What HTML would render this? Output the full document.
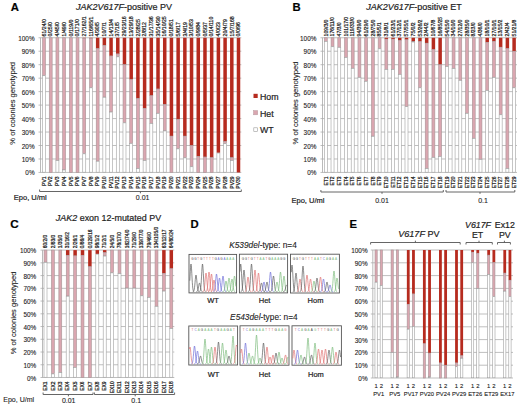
<!DOCTYPE html>
<html><head><meta charset="utf-8"><style>
html,body{margin:0;padding:0;background:#fff;}
svg{display:block;font-family:"Liberation Sans", sans-serif;}
text{stroke:#222;stroke-width:0.1px;}
text.sm{stroke-width:0.22px;}
text.lg,text.tt{stroke-width:0.2px;}
</style></head><body>
<svg width="520" height="406" viewBox="0 0 520 406">
<rect width="520" height="406" fill="#fff"/>
<line x1="38.50" y1="172.45" x2="241.30" y2="172.45" stroke="#a4a4a4" stroke-width="0.7"/>
<text x="34.60" y="175.45" font-size="6.4" text-anchor="end" fill="#222">0%</text>
<line x1="38.50" y1="158.98" x2="241.30" y2="158.98" stroke="#a4a4a4" stroke-width="0.7"/>
<text x="34.60" y="161.98" font-size="6.4" text-anchor="end" fill="#222">10%</text>
<line x1="38.50" y1="145.51" x2="241.30" y2="145.51" stroke="#a4a4a4" stroke-width="0.7"/>
<text x="34.60" y="148.51" font-size="6.4" text-anchor="end" fill="#222">20%</text>
<line x1="38.50" y1="132.04" x2="241.30" y2="132.04" stroke="#a4a4a4" stroke-width="0.7"/>
<text x="34.60" y="135.04" font-size="6.4" text-anchor="end" fill="#222">30%</text>
<line x1="38.50" y1="118.57" x2="241.30" y2="118.57" stroke="#a4a4a4" stroke-width="0.7"/>
<text x="34.60" y="121.57" font-size="6.4" text-anchor="end" fill="#222">40%</text>
<line x1="38.50" y1="105.10" x2="241.30" y2="105.10" stroke="#a4a4a4" stroke-width="0.7"/>
<text x="34.60" y="108.10" font-size="6.4" text-anchor="end" fill="#222">50%</text>
<line x1="38.50" y1="91.63" x2="241.30" y2="91.63" stroke="#a4a4a4" stroke-width="0.7"/>
<text x="34.60" y="94.63" font-size="6.4" text-anchor="end" fill="#222">60%</text>
<line x1="38.50" y1="78.16" x2="241.30" y2="78.16" stroke="#a4a4a4" stroke-width="0.7"/>
<text x="34.60" y="81.16" font-size="6.4" text-anchor="end" fill="#222">70%</text>
<line x1="38.50" y1="64.69" x2="241.30" y2="64.69" stroke="#a4a4a4" stroke-width="0.7"/>
<text x="34.60" y="67.69" font-size="6.4" text-anchor="end" fill="#222">80%</text>
<line x1="38.50" y1="51.22" x2="241.30" y2="51.22" stroke="#a4a4a4" stroke-width="0.7"/>
<text x="34.60" y="54.22" font-size="6.4" text-anchor="end" fill="#222">90%</text>
<line x1="38.50" y1="37.75" x2="241.30" y2="37.75" stroke="#a4a4a4" stroke-width="0.7"/>
<text x="34.60" y="40.75" font-size="6.4" text-anchor="end" fill="#222">100%</text>
<line x1="40.50" y1="37.75" x2="40.50" y2="172.45" stroke="#a8a8a8" stroke-width="0.8"/>
<text x="15.30" y="103.30" font-size="7.6" text-anchor="middle" fill="#222" transform="rotate(-90 15.3 103.3)">% of colonies genotyped</text>
<rect x="42.55" y="37.75" width="2.90" height="37.72" fill="#daa6b0" stroke="#a89496" stroke-width="0.6"/>
<rect x="42.50" y="75.72" width="3.00" height="96.48" fill="#fff" stroke="#a0a0a0" stroke-width="0.6"/>
<text transform="translate(45.70 36.40) rotate(-90) scale(1.08 1)" x="0" y="0" font-size="4.8" text-anchor="start" fill="#222" class="sm">61/24/0</text>
<text transform="translate(45.70 176.40) rotate(-90) scale(1.07 1)" x="0" y="0" font-size="4.7" text-anchor="end" fill="#222" class="sm">PV1</text>
<rect x="49.26" y="37.75" width="2.90" height="134.70" fill="#daa6b0" stroke="#a89496" stroke-width="0.6"/>
<text transform="translate(52.41 36.40) rotate(-90) scale(1.08 1)" x="0" y="0" font-size="4.8" text-anchor="start" fill="#222" class="sm">0/25/0</text>
<text transform="translate(52.41 176.40) rotate(-90) scale(1.07 1)" x="0" y="0" font-size="4.7" text-anchor="end" fill="#222" class="sm">PV2</text>
<rect x="55.96" y="37.75" width="2.90" height="122.58" fill="#daa6b0" stroke="#a89496" stroke-width="0.6"/>
<rect x="55.91" y="160.58" width="3.00" height="11.62" fill="#fff" stroke="#a0a0a0" stroke-width="0.6"/>
<text transform="translate(59.11 36.40) rotate(-90) scale(1.08 1)" x="0" y="0" font-size="4.8" text-anchor="start" fill="#222" class="sm">4/45/0</text>
<text transform="translate(59.11 176.40) rotate(-90) scale(1.07 1)" x="0" y="0" font-size="4.7" text-anchor="end" fill="#222" class="sm">PV3</text>
<rect x="62.67" y="37.75" width="2.90" height="132.01" fill="#daa6b0" stroke="#a89496" stroke-width="0.6"/>
<rect x="62.62" y="170.01" width="3.00" height="2.19" fill="#fff" stroke="#a0a0a0" stroke-width="0.6"/>
<text transform="translate(65.82 36.40) rotate(-90) scale(1.08 1)" x="0" y="0" font-size="4.8" text-anchor="start" fill="#222" class="sm">1/49/0</text>
<text transform="translate(65.82 176.40) rotate(-90) scale(1.07 1)" x="0" y="0" font-size="4.7" text-anchor="end" fill="#222" class="sm">PV4</text>
<rect x="69.38" y="37.75" width="2.90" height="134.70" fill="#daa6b0" stroke="#a89496" stroke-width="0.6"/>
<text transform="translate(72.53 36.40) rotate(-90) scale(1.08 1)" x="0" y="0" font-size="4.8" text-anchor="start" fill="#222" class="sm">0/119/0</text>
<text transform="translate(72.53 176.40) rotate(-90) scale(1.07 1)" x="0" y="0" font-size="4.7" text-anchor="end" fill="#222" class="sm">PV5</text>
<rect x="76.08" y="37.75" width="2.90" height="134.70" fill="#daa6b0" stroke="#a89496" stroke-width="0.6"/>
<text transform="translate(79.23 36.40) rotate(-90) scale(1.08 1)" x="0" y="0" font-size="4.8" text-anchor="start" fill="#222" class="sm">0/171/0</text>
<text transform="translate(79.23 176.40) rotate(-90) scale(1.07 1)" x="0" y="0" font-size="4.7" text-anchor="end" fill="#222" class="sm">PV6</text>
<rect x="82.49" y="37.75" width="3.50" height="0.67" fill="#b62b1f"/>
<rect x="82.79" y="38.42" width="2.90" height="115.17" fill="#daa6b0" stroke="#a89496" stroke-width="0.6"/>
<rect x="82.74" y="153.84" width="3.00" height="18.36" fill="#fff" stroke="#a0a0a0" stroke-width="0.6"/>
<text transform="translate(85.94 36.40) rotate(-90) scale(1.08 1)" x="0" y="0" font-size="4.8" text-anchor="start" fill="#222" class="sm">27/162/1</text>
<text transform="translate(85.94 176.40) rotate(-90) scale(1.07 1)" x="0" y="0" font-size="4.7" text-anchor="end" fill="#222" class="sm">PV7</text>
<rect x="89.20" y="37.75" width="3.50" height="0.67" fill="#b62b1f"/>
<rect x="89.50" y="38.42" width="2.90" height="49.17" fill="#daa6b0" stroke="#a89496" stroke-width="0.6"/>
<rect x="89.45" y="87.84" width="3.00" height="84.36" fill="#fff" stroke="#a0a0a0" stroke-width="0.6"/>
<text transform="translate(92.65 36.40) rotate(-90) scale(1.08 1)" x="0" y="0" font-size="4.8" text-anchor="start" fill="#222" class="sm">116/65/1</text>
<text transform="translate(92.65 176.40) rotate(-90) scale(1.07 1)" x="0" y="0" font-size="4.7" text-anchor="end" fill="#222" class="sm">PV8</text>
<rect x="95.91" y="37.75" width="3.50" height="10.78" fill="#b62b1f"/>
<rect x="96.21" y="48.53" width="2.90" height="112.47" fill="#daa6b0" stroke="#a89496" stroke-width="0.6"/>
<rect x="96.16" y="161.25" width="3.00" height="10.95" fill="#fff" stroke="#a0a0a0" stroke-width="0.6"/>
<text transform="translate(99.36 36.40) rotate(-90) scale(1.08 1)" x="0" y="0" font-size="4.8" text-anchor="start" fill="#222" class="sm">4/30/5</text>
<text transform="translate(99.36 176.40) rotate(-90) scale(1.07 1)" x="0" y="0" font-size="4.7" text-anchor="end" fill="#222" class="sm">PV9</text>
<rect x="102.61" y="37.75" width="3.50" height="7.68" fill="#b62b1f"/>
<rect x="102.91" y="45.43" width="2.90" height="51.59" fill="#daa6b0" stroke="#a89496" stroke-width="0.6"/>
<rect x="102.86" y="97.27" width="3.00" height="74.93" fill="#fff" stroke="#a0a0a0" stroke-width="0.6"/>
<text transform="translate(106.06 36.40) rotate(-90) scale(1.08 1)" x="0" y="0" font-size="4.8" text-anchor="start" fill="#222" class="sm">10/7/1</text>
<text transform="translate(106.06 176.40) rotate(-90) scale(1.07 1)" x="0" y="0" font-size="4.7" text-anchor="end" fill="#222" class="sm">PV10</text>
<rect x="109.32" y="37.75" width="3.50" height="18.18" fill="#b62b1f"/>
<rect x="109.62" y="55.93" width="2.90" height="55.90" fill="#daa6b0" stroke="#a89496" stroke-width="0.6"/>
<rect x="109.57" y="112.08" width="3.00" height="60.12" fill="#fff" stroke="#a0a0a0" stroke-width="0.6"/>
<text transform="translate(112.77 36.40) rotate(-90) scale(1.08 1)" x="0" y="0" font-size="4.8" text-anchor="start" fill="#222" class="sm">14/13/4</text>
<text transform="translate(112.77 176.40) rotate(-90) scale(1.07 1)" x="0" y="0" font-size="4.7" text-anchor="end" fill="#222" class="sm">PV11</text>
<rect x="116.03" y="37.75" width="3.50" height="16.16" fill="#b62b1f"/>
<rect x="116.33" y="53.91" width="2.90" height="2.69" fill="#daa6b0" stroke="#a89496" stroke-width="0.6"/>
<rect x="116.28" y="56.86" width="3.00" height="115.34" fill="#fff" stroke="#a0a0a0" stroke-width="0.6"/>
<text transform="translate(119.48 36.40) rotate(-90) scale(1.08 1)" x="0" y="0" font-size="4.8" text-anchor="start" fill="#222" class="sm">37/1/5</text>
<text transform="translate(119.48 176.40) rotate(-90) scale(1.07 1)" x="0" y="0" font-size="4.7" text-anchor="end" fill="#222" class="sm">PV12</text>
<rect x="122.73" y="37.75" width="3.50" height="26.94" fill="#b62b1f"/>
<rect x="123.03" y="64.69" width="2.90" height="57.92" fill="#daa6b0" stroke="#a89496" stroke-width="0.6"/>
<rect x="122.98" y="122.86" width="3.00" height="49.34" fill="#fff" stroke="#a0a0a0" stroke-width="0.6"/>
<text transform="translate(126.18 36.40) rotate(-90) scale(1.08 1)" x="0" y="0" font-size="4.8" text-anchor="start" fill="#222" class="sm">29/23/16</text>
<text transform="translate(126.18 176.40) rotate(-90) scale(1.07 1)" x="0" y="0" font-size="4.7" text-anchor="end" fill="#222" class="sm">PV13</text>
<rect x="129.44" y="37.75" width="3.50" height="41.76" fill="#b62b1f"/>
<rect x="129.74" y="79.51" width="2.90" height="63.71" fill="#daa6b0" stroke="#a89496" stroke-width="0.6"/>
<rect x="129.69" y="143.47" width="3.00" height="28.73" fill="#fff" stroke="#a0a0a0" stroke-width="0.6"/>
<text transform="translate(132.89 36.40) rotate(-90) scale(1.08 1)" x="0" y="0" font-size="4.8" text-anchor="start" fill="#222" class="sm">13/29/18</text>
<text transform="translate(132.89 176.40) rotate(-90) scale(1.07 1)" x="0" y="0" font-size="4.7" text-anchor="end" fill="#222" class="sm">PV14</text>
<rect x="136.15" y="37.75" width="3.50" height="60.61" fill="#b62b1f"/>
<rect x="136.45" y="98.36" width="2.90" height="70.04" fill="#daa6b0" stroke="#a89496" stroke-width="0.6"/>
<rect x="136.40" y="168.66" width="3.00" height="3.54" fill="#fff" stroke="#a0a0a0" stroke-width="0.6"/>
<text transform="translate(139.60 36.40) rotate(-90) scale(1.08 1)" x="0" y="0" font-size="4.8" text-anchor="start" fill="#222" class="sm">2/28/25</text>
<text transform="translate(139.60 176.40) rotate(-90) scale(1.07 1)" x="0" y="0" font-size="4.7" text-anchor="end" fill="#222" class="sm">PV15</text>
<rect x="142.86" y="37.75" width="3.50" height="70.58" fill="#b62b1f"/>
<rect x="143.16" y="108.33" width="2.90" height="51.99" fill="#daa6b0" stroke="#a89496" stroke-width="0.6"/>
<rect x="143.11" y="160.58" width="3.00" height="11.62" fill="#fff" stroke="#a0a0a0" stroke-width="0.6"/>
<text transform="translate(146.31 36.40) rotate(-90) scale(1.08 1)" x="0" y="0" font-size="4.8" text-anchor="start" fill="#222" class="sm">2/8/12</text>
<text transform="translate(146.31 176.40) rotate(-90) scale(1.07 1)" x="0" y="0" font-size="4.7" text-anchor="end" fill="#222" class="sm">PV16</text>
<rect x="149.56" y="37.75" width="3.50" height="57.92" fill="#b62b1f"/>
<rect x="149.86" y="95.67" width="2.90" height="27.61" fill="#daa6b0" stroke="#a89496" stroke-width="0.6"/>
<rect x="149.81" y="123.53" width="3.00" height="48.67" fill="#fff" stroke="#a0a0a0" stroke-width="0.6"/>
<text transform="translate(153.01 36.40) rotate(-90) scale(1.08 1)" x="0" y="0" font-size="4.8" text-anchor="start" fill="#222" class="sm">31/17/36</text>
<text transform="translate(153.01 176.40) rotate(-90) scale(1.07 1)" x="0" y="0" font-size="4.7" text-anchor="end" fill="#222" class="sm">PV17</text>
<rect x="156.27" y="37.75" width="3.50" height="51.19" fill="#b62b1f"/>
<rect x="156.57" y="88.94" width="2.90" height="24.25" fill="#daa6b0" stroke="#a89496" stroke-width="0.6"/>
<rect x="156.52" y="113.43" width="3.00" height="58.77" fill="#fff" stroke="#a0a0a0" stroke-width="0.6"/>
<text transform="translate(159.72 36.40) rotate(-90) scale(1.08 1)" x="0" y="0" font-size="4.8" text-anchor="start" fill="#222" class="sm">35/14/30</text>
<text transform="translate(159.72 176.40) rotate(-90) scale(1.07 1)" x="0" y="0" font-size="4.7" text-anchor="end" fill="#222" class="sm">PV18</text>
<rect x="162.98" y="37.75" width="3.50" height="66.68" fill="#b62b1f"/>
<rect x="163.28" y="104.43" width="2.90" height="26.27" fill="#daa6b0" stroke="#a89496" stroke-width="0.6"/>
<rect x="163.23" y="130.94" width="3.00" height="41.26" fill="#fff" stroke="#a0a0a0" stroke-width="0.6"/>
<text transform="translate(166.43 36.40) rotate(-90) scale(1.08 1)" x="0" y="0" font-size="4.8" text-anchor="start" fill="#222" class="sm">16/10/25</text>
<text transform="translate(166.43 176.40) rotate(-90) scale(1.07 1)" x="0" y="0" font-size="4.7" text-anchor="end" fill="#222" class="sm">PV19</text>
<rect x="169.68" y="37.75" width="3.50" height="98.33" fill="#b62b1f"/>
<rect x="169.98" y="136.08" width="2.90" height="36.37" fill="#daa6b0" stroke="#a89496" stroke-width="0.6"/>
<text transform="translate(173.13 36.40) rotate(-90) scale(1.08 1)" x="0" y="0" font-size="4.8" text-anchor="start" fill="#222" class="sm">0/18/51</text>
<text transform="translate(173.13 176.40) rotate(-90) scale(1.07 1)" x="0" y="0" font-size="4.7" text-anchor="end" fill="#222" class="sm">PV20</text>
<rect x="176.39" y="37.75" width="3.50" height="81.49" fill="#b62b1f"/>
<rect x="176.69" y="119.24" width="2.90" height="29.36" fill="#daa6b0" stroke="#a89496" stroke-width="0.6"/>
<rect x="176.64" y="148.86" width="3.00" height="23.34" fill="#fff" stroke="#a0a0a0" stroke-width="0.6"/>
<text transform="translate(179.84 36.40) rotate(-90) scale(1.08 1)" x="0" y="0" font-size="4.8" text-anchor="start" fill="#222" class="sm">5/6/17</text>
<text transform="translate(179.84 176.40) rotate(-90) scale(1.07 1)" x="0" y="0" font-size="4.7" text-anchor="end" fill="#222" class="sm">PV21</text>
<rect x="183.10" y="37.75" width="3.50" height="98.33" fill="#b62b1f"/>
<rect x="183.40" y="136.08" width="2.90" height="21.55" fill="#daa6b0" stroke="#a89496" stroke-width="0.6"/>
<rect x="183.35" y="157.88" width="3.00" height="14.32" fill="#fff" stroke="#a0a0a0" stroke-width="0.6"/>
<text transform="translate(186.55 36.40) rotate(-90) scale(1.08 1)" x="0" y="0" font-size="4.8" text-anchor="start" fill="#222" class="sm">3/4/19</text>
<text transform="translate(186.55 176.40) rotate(-90) scale(1.07 1)" x="0" y="0" font-size="4.7" text-anchor="end" fill="#222" class="sm">PV22</text>
<rect x="189.80" y="37.75" width="3.50" height="107.76" fill="#b62b1f"/>
<rect x="190.10" y="145.51" width="2.90" height="21.01" fill="#daa6b0" stroke="#a89496" stroke-width="0.6"/>
<rect x="190.05" y="166.77" width="3.00" height="5.43" fill="#fff" stroke="#a0a0a0" stroke-width="0.6"/>
<text transform="translate(193.25 36.40) rotate(-90) scale(1.08 1)" x="0" y="0" font-size="4.8" text-anchor="start" fill="#222" class="sm">3/10/53</text>
<text transform="translate(193.25 176.40) rotate(-90) scale(1.07 1)" x="0" y="0" font-size="4.7" text-anchor="end" fill="#222" class="sm">PV23</text>
<rect x="196.51" y="37.75" width="3.50" height="118.54" fill="#b62b1f"/>
<rect x="196.81" y="156.29" width="2.90" height="16.16" fill="#daa6b0" stroke="#a89496" stroke-width="0.6"/>
<text transform="translate(199.96 36.40) rotate(-90) scale(1.08 1)" x="0" y="0" font-size="4.8" text-anchor="start" fill="#222" class="sm">0/9/84</text>
<text transform="translate(199.96 176.40) rotate(-90) scale(1.07 1)" x="0" y="0" font-size="4.7" text-anchor="end" fill="#222" class="sm">PV24</text>
<rect x="203.22" y="37.75" width="3.50" height="119.21" fill="#b62b1f"/>
<rect x="203.52" y="156.96" width="2.90" height="15.49" fill="#daa6b0" stroke="#a89496" stroke-width="0.6"/>
<text transform="translate(206.67 36.40) rotate(-90) scale(1.08 1)" x="0" y="0" font-size="4.8" text-anchor="start" fill="#222" class="sm">0/5/37</text>
<text transform="translate(206.67 176.40) rotate(-90) scale(1.07 1)" x="0" y="0" font-size="4.7" text-anchor="end" fill="#222" class="sm">PV25</text>
<rect x="209.92" y="37.75" width="3.50" height="119.88" fill="#b62b1f"/>
<rect x="210.22" y="157.63" width="2.90" height="14.82" fill="#daa6b0" stroke="#a89496" stroke-width="0.6"/>
<text transform="translate(213.37 36.40) rotate(-90) scale(1.08 1)" x="0" y="0" font-size="4.8" text-anchor="start" fill="#222" class="sm">0/14/110</text>
<text transform="translate(213.37 176.40) rotate(-90) scale(1.07 1)" x="0" y="0" font-size="4.7" text-anchor="end" fill="#222" class="sm">PV26</text>
<rect x="216.63" y="37.75" width="3.50" height="115.03" fill="#b62b1f"/>
<rect x="216.88" y="153.03" width="3.00" height="19.17" fill="#fff" stroke="#a0a0a0" stroke-width="0.6"/>
<text transform="translate(220.08 36.40) rotate(-90) scale(1.08 1)" x="0" y="0" font-size="4.8" text-anchor="start" fill="#222" class="sm">4/0/23</text>
<text transform="translate(220.08 176.40) rotate(-90) scale(1.07 1)" x="0" y="0" font-size="4.7" text-anchor="end" fill="#222" class="sm">PV27</text>
<rect x="223.34" y="37.75" width="3.50" height="103.72" fill="#b62b1f"/>
<rect x="223.64" y="141.47" width="2.90" height="2.02" fill="#daa6b0" stroke="#a89496" stroke-width="0.6"/>
<rect x="223.59" y="143.74" width="3.00" height="28.46" fill="#fff" stroke="#a0a0a0" stroke-width="0.6"/>
<text transform="translate(226.79 36.40) rotate(-90) scale(1.08 1)" x="0" y="0" font-size="4.8" text-anchor="start" fill="#222" class="sm">20/4/79</text>
<text transform="translate(226.79 176.40) rotate(-90) scale(1.07 1)" x="0" y="0" font-size="4.7" text-anchor="end" fill="#222" class="sm">PV28</text>
<rect x="230.05" y="37.75" width="3.50" height="119.88" fill="#b62b1f"/>
<rect x="230.35" y="157.63" width="2.90" height="2.69" fill="#daa6b0" stroke="#a89496" stroke-width="0.6"/>
<rect x="230.30" y="160.58" width="3.00" height="11.62" fill="#fff" stroke="#a0a0a0" stroke-width="0.6"/>
<text transform="translate(233.50 36.40) rotate(-90) scale(1.08 1)" x="0" y="0" font-size="4.8" text-anchor="start" fill="#222" class="sm">15/7/168</text>
<text transform="translate(233.50 176.40) rotate(-90) scale(1.07 1)" x="0" y="0" font-size="4.7" text-anchor="end" fill="#222" class="sm">PV29</text>
<rect x="236.75" y="37.75" width="3.50" height="134.70" fill="#b62b1f"/>
<text transform="translate(240.20 36.40) rotate(-90) scale(1.08 1)" x="0" y="0" font-size="4.8" text-anchor="start" fill="#222" class="sm">0/0/96</text>
<text transform="translate(240.20 176.40) rotate(-90) scale(1.07 1)" x="0" y="0" font-size="4.7" text-anchor="end" fill="#222" class="sm">PV30</text>
<path d="M39.60 189.50 L39.60 191.50 L241.30 191.50 L241.30 189.50" fill="none" stroke="#555" stroke-width="0.9"/>
<line x1="140.40" y1="191.50" x2="140.40" y2="193.30" stroke="#555" stroke-width="0.9"/>
<text x="135.80" y="199.80" font-size="7" text-anchor="start" fill="#222">0.01</text>
<text x="13.80" y="199.60" font-size="7.5" text-anchor="start" fill="#222" class="lg">Epo, U/ml</text>
<text x="10.80" y="10.60" font-size="11.3" text-anchor="start" font-weight="bold" fill="#000" class="lg">A</text>
<text x="124" y="9.5" font-size="9" text-anchor="middle" fill="#222" class="tt"><tspan font-style="italic">JAK2V617F</tspan>-positive PV</text>
<rect x="253.50" y="93.80" width="4.20" height="4.20" fill="#b62b1f"/>
<rect x="253.50" y="110.60" width="4.20" height="4.20" fill="#daa6b0" stroke="#b89ca0" stroke-width="0.5"/>
<rect x="253.80" y="127.80" width="3.80" height="3.80" fill="#fff" stroke="#999" stroke-width="0.6"/>
<text x="260.00" y="100.00" font-size="8.8" text-anchor="start" fill="#222" class="lg">Hom</text>
<text x="260.00" y="116.60" font-size="8.8" text-anchor="start" fill="#222" class="lg">Het</text>
<text x="260.00" y="133.40" font-size="8.8" text-anchor="start" fill="#222" class="lg">WT</text>
<line x1="320.50" y1="172.45" x2="517.00" y2="172.45" stroke="#a4a4a4" stroke-width="0.7"/>
<text x="316.40" y="175.45" font-size="6.4" text-anchor="end" fill="#222">0%</text>
<line x1="320.50" y1="158.98" x2="517.00" y2="158.98" stroke="#a4a4a4" stroke-width="0.7"/>
<text x="316.40" y="161.98" font-size="6.4" text-anchor="end" fill="#222">10%</text>
<line x1="320.50" y1="145.51" x2="517.00" y2="145.51" stroke="#a4a4a4" stroke-width="0.7"/>
<text x="316.40" y="148.51" font-size="6.4" text-anchor="end" fill="#222">20%</text>
<line x1="320.50" y1="132.04" x2="517.00" y2="132.04" stroke="#a4a4a4" stroke-width="0.7"/>
<text x="316.40" y="135.04" font-size="6.4" text-anchor="end" fill="#222">30%</text>
<line x1="320.50" y1="118.57" x2="517.00" y2="118.57" stroke="#a4a4a4" stroke-width="0.7"/>
<text x="316.40" y="121.57" font-size="6.4" text-anchor="end" fill="#222">40%</text>
<line x1="320.50" y1="105.10" x2="517.00" y2="105.10" stroke="#a4a4a4" stroke-width="0.7"/>
<text x="316.40" y="108.10" font-size="6.4" text-anchor="end" fill="#222">50%</text>
<line x1="320.50" y1="91.63" x2="517.00" y2="91.63" stroke="#a4a4a4" stroke-width="0.7"/>
<text x="316.40" y="94.63" font-size="6.4" text-anchor="end" fill="#222">60%</text>
<line x1="320.50" y1="78.16" x2="517.00" y2="78.16" stroke="#a4a4a4" stroke-width="0.7"/>
<text x="316.40" y="81.16" font-size="6.4" text-anchor="end" fill="#222">70%</text>
<line x1="320.50" y1="64.69" x2="517.00" y2="64.69" stroke="#a4a4a4" stroke-width="0.7"/>
<text x="316.40" y="67.69" font-size="6.4" text-anchor="end" fill="#222">80%</text>
<line x1="320.50" y1="51.22" x2="517.00" y2="51.22" stroke="#a4a4a4" stroke-width="0.7"/>
<text x="316.40" y="54.22" font-size="6.4" text-anchor="end" fill="#222">90%</text>
<line x1="320.50" y1="37.75" x2="517.00" y2="37.75" stroke="#a4a4a4" stroke-width="0.7"/>
<text x="316.40" y="40.75" font-size="6.4" text-anchor="end" fill="#222">100%</text>
<line x1="322.50" y1="37.75" x2="322.50" y2="172.45" stroke="#a8a8a8" stroke-width="0.8"/>
<text x="298.30" y="103.00" font-size="7.6" text-anchor="middle" fill="#222" transform="rotate(-90 298.3 103)">% of colonies genotyped</text>
<rect x="324.35" y="37.75" width="2.90" height="3.50" fill="#daa6b0" stroke="#a89496" stroke-width="0.6"/>
<rect x="324.30" y="41.50" width="3.00" height="130.70" fill="#fff" stroke="#a0a0a0" stroke-width="0.6"/>
<text transform="translate(327.50 36.40) rotate(-90) scale(1.05 1)" x="0" y="0" font-size="4.8" text-anchor="start" fill="#222" class="sm">109/3/0</text>
<text transform="translate(327.50 176.40) rotate(-90) scale(1.08 1)" x="0" y="0" font-size="4.6" text-anchor="end" fill="#222" class="sm">ET1</text>
<rect x="331.08" y="37.75" width="2.90" height="8.76" fill="#daa6b0" stroke="#a89496" stroke-width="0.6"/>
<rect x="331.03" y="46.76" width="3.00" height="125.44" fill="#fff" stroke="#a0a0a0" stroke-width="0.6"/>
<text transform="translate(334.23 36.40) rotate(-90) scale(1.05 1)" x="0" y="0" font-size="4.8" text-anchor="start" fill="#222" class="sm">176/11/0</text>
<text transform="translate(334.23 176.40) rotate(-90) scale(1.08 1)" x="0" y="0" font-size="4.6" text-anchor="end" fill="#222" class="sm">ET2</text>
<rect x="337.80" y="37.75" width="2.90" height="9.43" fill="#daa6b0" stroke="#a89496" stroke-width="0.6"/>
<rect x="337.75" y="47.43" width="3.00" height="124.77" fill="#fff" stroke="#a0a0a0" stroke-width="0.6"/>
<text transform="translate(340.95 36.40) rotate(-90) scale(1.05 1)" x="0" y="0" font-size="4.8" text-anchor="start" fill="#222" class="sm">47/3/0</text>
<text transform="translate(340.95 176.40) rotate(-90) scale(1.08 1)" x="0" y="0" font-size="4.6" text-anchor="end" fill="#222" class="sm">ET3</text>
<rect x="344.53" y="37.75" width="2.90" height="19.53" fill="#daa6b0" stroke="#a89496" stroke-width="0.6"/>
<rect x="344.48" y="57.53" width="3.00" height="114.67" fill="#fff" stroke="#a0a0a0" stroke-width="0.6"/>
<text transform="translate(347.68 36.40) rotate(-90) scale(1.05 1)" x="0" y="0" font-size="4.8" text-anchor="start" fill="#222" class="sm">101/17/0</text>
<text transform="translate(347.68 176.40) rotate(-90) scale(1.08 1)" x="0" y="0" font-size="4.6" text-anchor="end" fill="#222" class="sm">ET4</text>
<rect x="351.25" y="37.75" width="2.90" height="30.44" fill="#daa6b0" stroke="#a89496" stroke-width="0.6"/>
<rect x="351.20" y="68.44" width="3.00" height="103.76" fill="#fff" stroke="#a0a0a0" stroke-width="0.6"/>
<text transform="translate(354.40 36.40) rotate(-90) scale(1.05 1)" x="0" y="0" font-size="4.8" text-anchor="start" fill="#222" class="sm">119/33/0</text>
<text transform="translate(354.40 176.40) rotate(-90) scale(1.08 1)" x="0" y="0" font-size="4.6" text-anchor="end" fill="#222" class="sm">ET5</text>
<rect x="357.98" y="37.75" width="2.90" height="39.47" fill="#daa6b0" stroke="#a89496" stroke-width="0.6"/>
<rect x="357.93" y="77.47" width="3.00" height="94.73" fill="#fff" stroke="#a0a0a0" stroke-width="0.6"/>
<text transform="translate(361.12 36.40) rotate(-90) scale(1.05 1)" x="0" y="0" font-size="4.8" text-anchor="start" fill="#222" class="sm">94/39/0</text>
<text transform="translate(361.12 176.40) rotate(-90) scale(1.08 1)" x="0" y="0" font-size="4.6" text-anchor="end" fill="#222" class="sm">ET6</text>
<rect x="364.70" y="37.75" width="2.90" height="43.37" fill="#daa6b0" stroke="#a89496" stroke-width="0.6"/>
<rect x="364.65" y="81.37" width="3.00" height="90.83" fill="#fff" stroke="#a0a0a0" stroke-width="0.6"/>
<text transform="translate(367.85 36.40) rotate(-90) scale(1.05 1)" x="0" y="0" font-size="4.8" text-anchor="start" fill="#222" class="sm">61/29/0</text>
<text transform="translate(367.85 176.40) rotate(-90) scale(1.08 1)" x="0" y="0" font-size="4.6" text-anchor="end" fill="#222" class="sm">ET7</text>
<rect x="371.43" y="37.75" width="2.90" height="98.33" fill="#daa6b0" stroke="#a89496" stroke-width="0.6"/>
<rect x="371.38" y="136.33" width="3.00" height="35.87" fill="#fff" stroke="#a0a0a0" stroke-width="0.6"/>
<text transform="translate(374.57 36.40) rotate(-90) scale(1.05 1)" x="0" y="0" font-size="4.8" text-anchor="start" fill="#222" class="sm">28/75/0</text>
<text transform="translate(374.57 176.40) rotate(-90) scale(1.08 1)" x="0" y="0" font-size="4.6" text-anchor="end" fill="#222" class="sm">ET8</text>
<rect x="378.15" y="37.75" width="2.90" height="10.78" fill="#daa6b0" stroke="#a89496" stroke-width="0.6"/>
<rect x="378.10" y="48.78" width="3.00" height="123.42" fill="#fff" stroke="#a0a0a0" stroke-width="0.6"/>
<text transform="translate(381.30 36.40) rotate(-90) scale(1.05 1)" x="0" y="0" font-size="4.8" text-anchor="start" fill="#222" class="sm">85/5/1</text>
<text transform="translate(381.30 176.40) rotate(-90) scale(1.08 1)" x="0" y="0" font-size="4.6" text-anchor="end" fill="#222" class="sm">ET9</text>
<rect x="384.57" y="37.75" width="3.50" height="1.35" fill="#b62b1f"/>
<rect x="384.88" y="39.10" width="2.90" height="30.17" fill="#daa6b0" stroke="#a89496" stroke-width="0.6"/>
<rect x="384.82" y="69.52" width="3.00" height="102.68" fill="#fff" stroke="#a0a0a0" stroke-width="0.6"/>
<text transform="translate(388.02 36.40) rotate(-90) scale(1.05 1)" x="0" y="0" font-size="4.8" text-anchor="start" fill="#222" class="sm">31/8/1</text>
<text transform="translate(388.02 176.40) rotate(-90) scale(1.08 1)" x="0" y="0" font-size="4.6" text-anchor="end" fill="#222" class="sm">ET10</text>
<rect x="391.30" y="37.75" width="3.50" height="1.35" fill="#b62b1f"/>
<rect x="391.60" y="39.10" width="2.90" height="30.17" fill="#daa6b0" stroke="#a89496" stroke-width="0.6"/>
<rect x="391.55" y="69.52" width="3.00" height="102.68" fill="#fff" stroke="#a0a0a0" stroke-width="0.6"/>
<text transform="translate(394.75 36.40) rotate(-90) scale(1.05 1)" x="0" y="0" font-size="4.8" text-anchor="start" fill="#222" class="sm">61/23/1</text>
<text transform="translate(394.75 176.40) rotate(-90) scale(1.08 1)" x="0" y="0" font-size="4.6" text-anchor="end" fill="#222" class="sm">ET11</text>
<rect x="398.02" y="37.75" width="3.50" height="2.69" fill="#b62b1f"/>
<rect x="398.32" y="40.44" width="2.90" height="33.81" fill="#daa6b0" stroke="#a89496" stroke-width="0.6"/>
<rect x="398.27" y="74.50" width="3.00" height="97.70" fill="#fff" stroke="#a0a0a0" stroke-width="0.6"/>
<text transform="translate(401.47 36.40) rotate(-90) scale(1.05 1)" x="0" y="0" font-size="4.8" text-anchor="start" fill="#222" class="sm">37/12/1</text>
<text transform="translate(401.47 176.40) rotate(-90) scale(1.08 1)" x="0" y="0" font-size="4.6" text-anchor="end" fill="#222" class="sm">ET12</text>
<rect x="404.75" y="37.75" width="3.50" height="2.02" fill="#b62b1f"/>
<rect x="405.05" y="39.77" width="2.90" height="66.68" fill="#daa6b0" stroke="#a89496" stroke-width="0.6"/>
<rect x="405.00" y="106.70" width="3.00" height="65.50" fill="#fff" stroke="#a0a0a0" stroke-width="0.6"/>
<text transform="translate(408.20 36.40) rotate(-90) scale(1.05 1)" x="0" y="0" font-size="4.8" text-anchor="start" fill="#222" class="sm">57/55/1</text>
<text transform="translate(408.20 176.40) rotate(-90) scale(1.08 1)" x="0" y="0" font-size="4.6" text-anchor="end" fill="#222" class="sm">ET13</text>
<rect x="411.48" y="37.75" width="3.50" height="3.77" fill="#b62b1f"/>
<rect x="411.78" y="41.52" width="2.90" height="0.27" fill="#daa6b0" stroke="#a89496" stroke-width="0.6"/>
<rect x="411.73" y="42.04" width="3.00" height="130.16" fill="#fff" stroke="#a0a0a0" stroke-width="0.6"/>
<text transform="translate(414.93 36.40) rotate(-90) scale(1.05 1)" x="0" y="0" font-size="4.8" text-anchor="start" fill="#222" class="sm">75/0/2</text>
<text transform="translate(414.93 176.40) rotate(-90) scale(1.08 1)" x="0" y="0" font-size="4.6" text-anchor="end" fill="#222" class="sm">ET14</text>
<rect x="418.20" y="37.75" width="3.50" height="3.77" fill="#b62b1f"/>
<rect x="418.50" y="41.52" width="2.90" height="46.07" fill="#daa6b0" stroke="#a89496" stroke-width="0.6"/>
<rect x="418.45" y="87.84" width="3.00" height="84.36" fill="#fff" stroke="#a0a0a0" stroke-width="0.6"/>
<text transform="translate(421.65 36.40) rotate(-90) scale(1.05 1)" x="0" y="0" font-size="4.8" text-anchor="start" fill="#222" class="sm">53/26/2</text>
<text transform="translate(421.65 176.40) rotate(-90) scale(1.08 1)" x="0" y="0" font-size="4.6" text-anchor="end" fill="#222" class="sm">ET15</text>
<rect x="424.93" y="37.75" width="3.50" height="5.39" fill="#b62b1f"/>
<rect x="425.23" y="43.14" width="2.90" height="125.27" fill="#daa6b0" stroke="#a89496" stroke-width="0.6"/>
<rect x="425.18" y="168.66" width="3.00" height="3.54" fill="#fff" stroke="#a0a0a0" stroke-width="0.6"/>
<text transform="translate(428.38 36.40) rotate(-90) scale(1.05 1)" x="0" y="0" font-size="4.8" text-anchor="start" fill="#222" class="sm">2/44/2</text>
<text transform="translate(428.38 176.40) rotate(-90) scale(1.08 1)" x="0" y="0" font-size="4.6" text-anchor="end" fill="#222" class="sm">ET16</text>
<rect x="431.65" y="37.75" width="3.50" height="11.85" fill="#b62b1f"/>
<rect x="431.95" y="49.60" width="2.90" height="107.63" fill="#daa6b0" stroke="#a89496" stroke-width="0.6"/>
<rect x="431.90" y="157.48" width="3.00" height="14.72" fill="#fff" stroke="#a0a0a0" stroke-width="0.6"/>
<text transform="translate(435.10 36.40) rotate(-90) scale(1.05 1)" x="0" y="0" font-size="4.8" text-anchor="start" fill="#222" class="sm">10/67/8</text>
<text transform="translate(435.10 176.40) rotate(-90) scale(1.08 1)" x="0" y="0" font-size="4.6" text-anchor="end" fill="#222" class="sm">ET17</text>
<rect x="438.38" y="37.75" width="3.50" height="26.94" fill="#b62b1f"/>
<rect x="438.68" y="64.69" width="2.90" height="91.60" fill="#daa6b0" stroke="#a89496" stroke-width="0.6"/>
<rect x="438.62" y="156.54" width="3.00" height="15.66" fill="#fff" stroke="#a0a0a0" stroke-width="0.6"/>
<text transform="translate(441.82 36.40) rotate(-90) scale(1.05 1)" x="0" y="0" font-size="4.8" text-anchor="start" fill="#222" class="sm">16/85/25</text>
<text transform="translate(441.82 176.40) rotate(-90) scale(1.08 1)" x="0" y="0" font-size="4.6" text-anchor="end" fill="#222" class="sm">ET18</text>
<rect x="445.40" y="37.75" width="2.90" height="28.56" fill="#daa6b0" stroke="#a89496" stroke-width="0.6"/>
<rect x="445.35" y="66.56" width="3.00" height="105.64" fill="#fff" stroke="#a0a0a0" stroke-width="0.6"/>
<text transform="translate(448.55 36.40) rotate(-90) scale(1.05 1)" x="0" y="0" font-size="4.8" text-anchor="start" fill="#222" class="sm">54/15/0</text>
<text transform="translate(448.55 176.40) rotate(-90) scale(1.08 1)" x="0" y="0" font-size="4.6" text-anchor="end" fill="#222" class="sm">ET19</text>
<rect x="452.12" y="37.75" width="2.90" height="30.58" fill="#daa6b0" stroke="#a89496" stroke-width="0.6"/>
<rect x="452.07" y="68.58" width="3.00" height="103.62" fill="#fff" stroke="#a0a0a0" stroke-width="0.6"/>
<text transform="translate(455.27 36.40) rotate(-90) scale(1.05 1)" x="0" y="0" font-size="4.8" text-anchor="start" fill="#222" class="sm">34/10/0</text>
<text transform="translate(455.27 176.40) rotate(-90) scale(1.08 1)" x="0" y="0" font-size="4.6" text-anchor="end" fill="#222" class="sm">ET20</text>
<rect x="458.85" y="37.75" width="2.90" height="42.43" fill="#daa6b0" stroke="#a89496" stroke-width="0.6"/>
<rect x="458.80" y="80.43" width="3.00" height="91.77" fill="#fff" stroke="#a0a0a0" stroke-width="0.6"/>
<text transform="translate(462.00 36.40) rotate(-90) scale(1.05 1)" x="0" y="0" font-size="4.8" text-anchor="start" fill="#222" class="sm">27/12/0</text>
<text transform="translate(462.00 176.40) rotate(-90) scale(1.08 1)" x="0" y="0" font-size="4.6" text-anchor="end" fill="#222" class="sm">ET21</text>
<rect x="465.57" y="37.75" width="2.90" height="75.43" fill="#daa6b0" stroke="#a89496" stroke-width="0.6"/>
<rect x="465.52" y="113.43" width="3.00" height="58.77" fill="#fff" stroke="#a0a0a0" stroke-width="0.6"/>
<text transform="translate(468.72 36.40) rotate(-90) scale(1.05 1)" x="0" y="0" font-size="4.8" text-anchor="start" fill="#222" class="sm">28/35/0</text>
<text transform="translate(468.72 176.40) rotate(-90) scale(1.08 1)" x="0" y="0" font-size="4.6" text-anchor="end" fill="#222" class="sm">ET22</text>
<rect x="472.30" y="37.75" width="2.90" height="100.49" fill="#daa6b0" stroke="#a89496" stroke-width="0.6"/>
<rect x="472.25" y="138.49" width="3.00" height="33.71" fill="#fff" stroke="#a0a0a0" stroke-width="0.6"/>
<text transform="translate(475.45 36.40) rotate(-90) scale(1.05 1)" x="0" y="0" font-size="4.8" text-anchor="start" fill="#222" class="sm">8/23/0</text>
<text transform="translate(475.45 176.40) rotate(-90) scale(1.08 1)" x="0" y="0" font-size="4.6" text-anchor="end" fill="#222" class="sm">ET23</text>
<rect x="479.03" y="37.75" width="2.90" height="121.50" fill="#daa6b0" stroke="#a89496" stroke-width="0.6"/>
<rect x="478.98" y="159.50" width="3.00" height="12.70" fill="#fff" stroke="#a0a0a0" stroke-width="0.6"/>
<text transform="translate(482.18 36.40) rotate(-90) scale(1.05 1)" x="0" y="0" font-size="4.8" text-anchor="start" fill="#222" class="sm">4/36/0</text>
<text transform="translate(482.18 176.40) rotate(-90) scale(1.08 1)" x="0" y="0" font-size="4.6" text-anchor="end" fill="#222" class="sm">ET24</text>
<rect x="485.45" y="37.75" width="3.50" height="4.58" fill="#b62b1f"/>
<rect x="485.75" y="42.33" width="2.90" height="47.95" fill="#daa6b0" stroke="#a89496" stroke-width="0.6"/>
<rect x="485.70" y="90.53" width="3.00" height="81.67" fill="#fff" stroke="#a0a0a0" stroke-width="0.6"/>
<text transform="translate(488.90 36.40) rotate(-90) scale(1.05 1)" x="0" y="0" font-size="4.8" text-anchor="start" fill="#222" class="sm">18/10/1</text>
<text transform="translate(488.90 176.40) rotate(-90) scale(1.08 1)" x="0" y="0" font-size="4.6" text-anchor="end" fill="#222" class="sm">ET25</text>
<rect x="492.18" y="37.75" width="3.50" height="3.64" fill="#b62b1f"/>
<rect x="492.48" y="41.39" width="2.90" height="35.83" fill="#daa6b0" stroke="#a89496" stroke-width="0.6"/>
<rect x="492.43" y="77.47" width="3.00" height="94.73" fill="#fff" stroke="#a0a0a0" stroke-width="0.6"/>
<text transform="translate(495.62 36.40) rotate(-90) scale(1.05 1)" x="0" y="0" font-size="4.8" text-anchor="start" fill="#222" class="sm">27/10/1</text>
<text transform="translate(495.62 176.40) rotate(-90) scale(1.08 1)" x="0" y="0" font-size="4.6" text-anchor="end" fill="#222" class="sm">ET26</text>
<rect x="498.90" y="37.75" width="3.50" height="9.43" fill="#b62b1f"/>
<rect x="499.20" y="47.18" width="2.90" height="67.35" fill="#daa6b0" stroke="#a89496" stroke-width="0.6"/>
<rect x="499.15" y="114.78" width="3.00" height="57.42" fill="#fff" stroke="#a0a0a0" stroke-width="0.6"/>
<text transform="translate(502.35 36.40) rotate(-90) scale(1.05 1)" x="0" y="0" font-size="4.8" text-anchor="start" fill="#222" class="sm">13/15/2</text>
<text transform="translate(502.35 176.40) rotate(-90) scale(1.08 1)" x="0" y="0" font-size="4.6" text-anchor="end" fill="#222" class="sm">ET27</text>
<rect x="505.62" y="37.75" width="3.50" height="10.78" fill="#b62b1f"/>
<rect x="505.93" y="48.53" width="2.90" height="119.88" fill="#daa6b0" stroke="#a89496" stroke-width="0.6"/>
<rect x="505.88" y="168.66" width="3.00" height="3.54" fill="#fff" stroke="#a0a0a0" stroke-width="0.6"/>
<text transform="translate(509.07 36.40) rotate(-90) scale(1.05 1)" x="0" y="0" font-size="4.8" text-anchor="start" fill="#222" class="sm">2/42/4</text>
<text transform="translate(509.07 176.40) rotate(-90) scale(1.08 1)" x="0" y="0" font-size="4.6" text-anchor="end" fill="#222" class="sm">ET28</text>
<rect x="512.35" y="37.75" width="3.50" height="13.47" fill="#b62b1f"/>
<rect x="512.65" y="51.22" width="2.90" height="36.37" fill="#daa6b0" stroke="#a89496" stroke-width="0.6"/>
<rect x="512.60" y="87.84" width="3.00" height="84.36" fill="#fff" stroke="#a0a0a0" stroke-width="0.6"/>
<text transform="translate(515.80 36.40) rotate(-90) scale(1.05 1)" x="0" y="0" font-size="4.8" text-anchor="start" fill="#222" class="sm">51/21/8</text>
<text transform="translate(515.80 176.40) rotate(-90) scale(1.08 1)" x="0" y="0" font-size="4.6" text-anchor="end" fill="#222" class="sm">ET29</text>
<path d="M320.90 190.00 L320.90 192.00 L443.30 192.00 L443.30 190.00" fill="none" stroke="#555" stroke-width="0.9"/>
<line x1="382.00" y1="192.00" x2="382.00" y2="193.80" stroke="#555" stroke-width="0.9"/>
<path d="M446.00 190.00 L446.00 192.00 L514.80 192.00 L514.80 190.00" fill="none" stroke="#555" stroke-width="0.9"/>
<line x1="480.00" y1="192.00" x2="480.00" y2="193.80" stroke="#555" stroke-width="0.9"/>
<text x="382.00" y="203.00" font-size="7" text-anchor="middle" fill="#222">0.01</text>
<text x="483.00" y="203.00" font-size="7" text-anchor="middle" fill="#222">0.1</text>
<text x="291.50" y="203.40" font-size="7.5" text-anchor="start" fill="#222" class="lg">Epo, U/ml</text>
<text x="292.40" y="10.90" font-size="11.3" text-anchor="start" font-weight="bold" fill="#000" class="lg">B</text>
<text x="414" y="9.5" font-size="9" text-anchor="middle" fill="#222" class="tt"><tspan font-style="italic">JAK2V617F</tspan>-positive ET</text>
<line x1="40.50" y1="377.50" x2="174.30" y2="377.50" stroke="#a4a4a4" stroke-width="0.7"/>
<text x="36.30" y="380.50" font-size="6.4" text-anchor="end" fill="#222">0%</text>
<line x1="40.50" y1="364.76" x2="174.30" y2="364.76" stroke="#a4a4a4" stroke-width="0.7"/>
<text x="36.30" y="367.76" font-size="6.4" text-anchor="end" fill="#222">10%</text>
<line x1="40.50" y1="352.02" x2="174.30" y2="352.02" stroke="#a4a4a4" stroke-width="0.7"/>
<text x="36.30" y="355.02" font-size="6.4" text-anchor="end" fill="#222">20%</text>
<line x1="40.50" y1="339.28" x2="174.30" y2="339.28" stroke="#a4a4a4" stroke-width="0.7"/>
<text x="36.30" y="342.28" font-size="6.4" text-anchor="end" fill="#222">30%</text>
<line x1="40.50" y1="326.54" x2="174.30" y2="326.54" stroke="#a4a4a4" stroke-width="0.7"/>
<text x="36.30" y="329.54" font-size="6.4" text-anchor="end" fill="#222">40%</text>
<line x1="40.50" y1="313.80" x2="174.30" y2="313.80" stroke="#a4a4a4" stroke-width="0.7"/>
<text x="36.30" y="316.80" font-size="6.4" text-anchor="end" fill="#222">50%</text>
<line x1="40.50" y1="301.06" x2="174.30" y2="301.06" stroke="#a4a4a4" stroke-width="0.7"/>
<text x="36.30" y="304.06" font-size="6.4" text-anchor="end" fill="#222">60%</text>
<line x1="40.50" y1="288.32" x2="174.30" y2="288.32" stroke="#a4a4a4" stroke-width="0.7"/>
<text x="36.30" y="291.32" font-size="6.4" text-anchor="end" fill="#222">70%</text>
<line x1="40.50" y1="275.58" x2="174.30" y2="275.58" stroke="#a4a4a4" stroke-width="0.7"/>
<text x="36.30" y="278.58" font-size="6.4" text-anchor="end" fill="#222">80%</text>
<line x1="40.50" y1="262.84" x2="174.30" y2="262.84" stroke="#a4a4a4" stroke-width="0.7"/>
<text x="36.30" y="265.84" font-size="6.4" text-anchor="end" fill="#222">90%</text>
<line x1="40.50" y1="250.10" x2="174.30" y2="250.10" stroke="#a4a4a4" stroke-width="0.7"/>
<text x="36.30" y="253.10" font-size="6.4" text-anchor="end" fill="#222">100%</text>
<line x1="42.50" y1="250.10" x2="42.50" y2="377.50" stroke="#a8a8a8" stroke-width="0.8"/>
<text x="16.30" y="312.90" font-size="7.6" text-anchor="middle" fill="#222" transform="rotate(-90 16.3 312.9)">% of colonies genotyped</text>
<rect x="44.05" y="250.10" width="2.90" height="11.98" fill="#daa6b0" stroke="#a89496" stroke-width="0.6"/>
<rect x="44.00" y="262.33" width="3.00" height="114.92" fill="#fff" stroke="#a0a0a0" stroke-width="0.6"/>
<text transform="translate(47.20 248.30) rotate(-90) scale(1.03 1)" x="0" y="0" font-size="4.7" text-anchor="start" fill="#222" class="sm">60/2/0</text>
<text transform="translate(47.20 381.40) rotate(-90) scale(1.09 1)" x="0" y="0" font-size="4.5" text-anchor="end" fill="#222" class="sm">EX1</text>
<rect x="51.45" y="250.10" width="2.90" height="123.58" fill="#daa6b0" stroke="#a89496" stroke-width="0.6"/>
<rect x="51.40" y="373.93" width="3.00" height="3.32" fill="#fff" stroke="#a0a0a0" stroke-width="0.6"/>
<text transform="translate(54.60 248.30) rotate(-90) scale(1.03 1)" x="0" y="0" font-size="4.7" text-anchor="start" fill="#222" class="sm">2/83/0</text>
<text transform="translate(54.60 381.40) rotate(-90) scale(1.09 1)" x="0" y="0" font-size="4.5" text-anchor="end" fill="#222" class="sm">EX2</text>
<rect x="58.85" y="250.10" width="2.90" height="122.30" fill="#daa6b0" stroke="#a89496" stroke-width="0.6"/>
<rect x="58.80" y="372.65" width="3.00" height="4.60" fill="#fff" stroke="#a0a0a0" stroke-width="0.6"/>
<text transform="translate(62.00 248.30) rotate(-90) scale(1.03 1)" x="0" y="0" font-size="4.7" text-anchor="start" fill="#222" class="sm">1/35/0</text>
<text transform="translate(62.00 381.40) rotate(-90) scale(1.09 1)" x="0" y="0" font-size="4.5" text-anchor="end" fill="#222" class="sm">EX3</text>
<rect x="65.95" y="250.10" width="3.50" height="5.22" fill="#b62b1f"/>
<rect x="66.25" y="255.32" width="2.90" height="40.64" fill="#daa6b0" stroke="#a89496" stroke-width="0.6"/>
<rect x="66.20" y="296.21" width="3.00" height="81.04" fill="#fff" stroke="#a0a0a0" stroke-width="0.6"/>
<text transform="translate(69.40 248.30) rotate(-90) scale(1.03 1)" x="0" y="0" font-size="4.7" text-anchor="start" fill="#222" class="sm">31/16/2</text>
<text transform="translate(69.40 381.40) rotate(-90) scale(1.09 1)" x="0" y="0" font-size="4.5" text-anchor="end" fill="#222" class="sm">EX4</text>
<rect x="73.35" y="250.10" width="3.50" height="5.73" fill="#b62b1f"/>
<rect x="73.65" y="255.83" width="2.90" height="111.47" fill="#daa6b0" stroke="#a89496" stroke-width="0.6"/>
<rect x="73.60" y="367.56" width="3.00" height="9.69" fill="#fff" stroke="#a0a0a0" stroke-width="0.6"/>
<text transform="translate(76.80 248.30) rotate(-90) scale(1.03 1)" x="0" y="0" font-size="4.7" text-anchor="start" fill="#222" class="sm">2/26/1</text>
<text transform="translate(76.80 381.40) rotate(-90) scale(1.09 1)" x="0" y="0" font-size="4.5" text-anchor="end" fill="#222" class="sm">EX5</text>
<rect x="80.75" y="250.10" width="3.50" height="5.22" fill="#b62b1f"/>
<rect x="81.05" y="255.32" width="2.90" height="122.18" fill="#daa6b0" stroke="#a89496" stroke-width="0.6"/>
<text transform="translate(84.20 248.30) rotate(-90) scale(1.03 1)" x="0" y="0" font-size="4.7" text-anchor="start" fill="#222" class="sm">0/86/4</text>
<text transform="translate(84.20 381.40) rotate(-90) scale(1.09 1)" x="0" y="0" font-size="4.5" text-anchor="end" fill="#222" class="sm">EX6</text>
<rect x="88.15" y="250.10" width="3.50" height="16.56" fill="#b62b1f"/>
<rect x="88.45" y="266.66" width="2.90" height="110.84" fill="#daa6b0" stroke="#a89496" stroke-width="0.6"/>
<text transform="translate(91.60 248.30) rotate(-90) scale(1.03 1)" x="0" y="0" font-size="4.7" text-anchor="start" fill="#222" class="sm">0/129/16</text>
<text transform="translate(91.60 381.40) rotate(-90) scale(1.09 1)" x="0" y="0" font-size="4.5" text-anchor="end" fill="#222" class="sm">EX7</text>
<rect x="95.55" y="250.10" width="3.50" height="3.82" fill="#b62b1f"/>
<rect x="95.80" y="254.17" width="3.00" height="123.08" fill="#fff" stroke="#a0a0a0" stroke-width="0.6"/>
<text transform="translate(99.00 248.30) rotate(-90) scale(1.03 1)" x="0" y="0" font-size="4.7" text-anchor="start" fill="#222" class="sm">98/1/2</text>
<text transform="translate(99.00 381.40) rotate(-90) scale(1.09 1)" x="0" y="0" font-size="4.5" text-anchor="end" fill="#222" class="sm">EX8</text>
<rect x="102.95" y="250.10" width="3.50" height="2.55" fill="#b62b1f"/>
<rect x="103.25" y="252.65" width="2.90" height="3.19" fill="#daa6b0" stroke="#a89496" stroke-width="0.6"/>
<rect x="103.20" y="256.08" width="3.00" height="121.17" fill="#fff" stroke="#a0a0a0" stroke-width="0.6"/>
<text transform="translate(106.40 248.30) rotate(-90) scale(1.03 1)" x="0" y="0" font-size="4.7" text-anchor="start" fill="#222" class="sm">71/2/1</text>
<text transform="translate(106.40 381.40) rotate(-90) scale(1.09 1)" x="0" y="0" font-size="4.5" text-anchor="end" fill="#222" class="sm">EX9</text>
<rect x="110.65" y="250.10" width="2.90" height="22.55" fill="#daa6b0" stroke="#a89496" stroke-width="0.6"/>
<rect x="110.60" y="272.90" width="3.00" height="104.35" fill="#fff" stroke="#a0a0a0" stroke-width="0.6"/>
<text transform="translate(113.80 248.30) rotate(-90) scale(1.03 1)" x="0" y="0" font-size="4.7" text-anchor="start" fill="#222" class="sm">24/5/0</text>
<text transform="translate(113.80 381.40) rotate(-90) scale(1.09 1)" x="0" y="0" font-size="4.5" text-anchor="end" fill="#222" class="sm">EX10</text>
<rect x="118.05" y="250.10" width="2.90" height="23.31" fill="#daa6b0" stroke="#a89496" stroke-width="0.6"/>
<rect x="118.00" y="273.66" width="3.00" height="103.59" fill="#fff" stroke="#a0a0a0" stroke-width="0.6"/>
<text transform="translate(121.20 248.30) rotate(-90) scale(1.03 1)" x="0" y="0" font-size="4.7" text-anchor="start" fill="#222" class="sm">78/17/0</text>
<text transform="translate(121.20 381.40) rotate(-90) scale(1.09 1)" x="0" y="0" font-size="4.5" text-anchor="end" fill="#222" class="sm">EX11</text>
<rect x="125.45" y="250.10" width="2.90" height="37.84" fill="#daa6b0" stroke="#a89496" stroke-width="0.6"/>
<rect x="125.40" y="288.19" width="3.00" height="89.06" fill="#fff" stroke="#a0a0a0" stroke-width="0.6"/>
<text transform="translate(128.60 248.30) rotate(-90) scale(1.03 1)" x="0" y="0" font-size="4.7" text-anchor="start" fill="#222" class="sm">162/74/0</text>
<text transform="translate(128.60 381.40) rotate(-90) scale(1.09 1)" x="0" y="0" font-size="4.5" text-anchor="end" fill="#222" class="sm">EX12</text>
<rect x="132.85" y="250.10" width="2.90" height="37.84" fill="#daa6b0" stroke="#a89496" stroke-width="0.6"/>
<rect x="132.80" y="288.19" width="3.00" height="89.06" fill="#fff" stroke="#a0a0a0" stroke-width="0.6"/>
<text transform="translate(136.00 248.30) rotate(-90) scale(1.03 1)" x="0" y="0" font-size="4.7" text-anchor="start" fill="#222" class="sm">71/29/0</text>
<text transform="translate(136.00 381.40) rotate(-90) scale(1.09 1)" x="0" y="0" font-size="4.5" text-anchor="end" fill="#222" class="sm">EX13</text>
<rect x="140.25" y="250.10" width="2.90" height="45.48" fill="#daa6b0" stroke="#a89496" stroke-width="0.6"/>
<rect x="140.20" y="295.83" width="3.00" height="81.42" fill="#fff" stroke="#a0a0a0" stroke-width="0.6"/>
<text transform="translate(143.40 248.30) rotate(-90) scale(1.03 1)" x="0" y="0" font-size="4.7" text-anchor="start" fill="#222" class="sm">139/77/0</text>
<text transform="translate(143.40 381.40) rotate(-90) scale(1.09 1)" x="0" y="0" font-size="4.5" text-anchor="end" fill="#222" class="sm">EX14</text>
<rect x="147.65" y="250.10" width="2.90" height="47.14" fill="#daa6b0" stroke="#a89496" stroke-width="0.6"/>
<rect x="147.60" y="297.49" width="3.00" height="79.76" fill="#fff" stroke="#a0a0a0" stroke-width="0.6"/>
<text transform="translate(150.80 248.30) rotate(-90) scale(1.03 1)" x="0" y="0" font-size="4.7" text-anchor="start" fill="#222" class="sm">79/46/0</text>
<text transform="translate(150.80 381.40) rotate(-90) scale(1.09 1)" x="0" y="0" font-size="4.5" text-anchor="end" fill="#222" class="sm">EX15</text>
<rect x="155.05" y="250.10" width="2.90" height="56.06" fill="#daa6b0" stroke="#a89496" stroke-width="0.6"/>
<rect x="155.00" y="306.41" width="3.00" height="70.84" fill="#fff" stroke="#a0a0a0" stroke-width="0.6"/>
<text transform="translate(158.20 248.30) rotate(-90) scale(1.03 1)" x="0" y="0" font-size="4.7" text-anchor="start" fill="#222" class="sm">134/105/0</text>
<text transform="translate(158.20 381.40) rotate(-90) scale(1.09 1)" x="0" y="0" font-size="4.5" text-anchor="end" fill="#222" class="sm">EX16</text>
<rect x="162.15" y="250.10" width="3.50" height="23.31" fill="#b62b1f"/>
<rect x="162.45" y="273.41" width="2.90" height="17.45" fill="#daa6b0" stroke="#a89496" stroke-width="0.6"/>
<rect x="162.40" y="291.12" width="3.00" height="86.13" fill="#fff" stroke="#a0a0a0" stroke-width="0.6"/>
<text transform="translate(165.60 248.30) rotate(-90) scale(1.03 1)" x="0" y="0" font-size="4.7" text-anchor="start" fill="#222" class="sm">63/12/17</text>
<text transform="translate(165.60 381.40) rotate(-90) scale(1.09 1)" x="0" y="0" font-size="4.5" text-anchor="end" fill="#222" class="sm">EX17</text>
<rect x="169.55" y="250.10" width="3.50" height="18.60" fill="#b62b1f"/>
<rect x="169.85" y="268.70" width="2.90" height="59.62" fill="#daa6b0" stroke="#a89496" stroke-width="0.6"/>
<rect x="169.80" y="328.57" width="3.00" height="48.68" fill="#fff" stroke="#a0a0a0" stroke-width="0.6"/>
<text transform="translate(173.00 248.30) rotate(-90) scale(1.03 1)" x="0" y="0" font-size="4.7" text-anchor="start" fill="#222" class="sm">64/80/24</text>
<text transform="translate(173.00 381.40) rotate(-90) scale(1.09 1)" x="0" y="0" font-size="4.5" text-anchor="end" fill="#222" class="sm">EX18</text>
<path d="M43.10 392.50 L43.10 394.50 L93.00 394.50 L93.00 392.50" fill="none" stroke="#555" stroke-width="0.9"/>
<line x1="68.40" y1="394.50" x2="68.40" y2="396.30" stroke="#555" stroke-width="0.9"/>
<path d="M94.40 392.50 L94.40 394.50 L174.60 394.50 L174.60 392.50" fill="none" stroke="#555" stroke-width="0.9"/>
<line x1="135.20" y1="394.50" x2="135.20" y2="396.30" stroke="#555" stroke-width="0.9"/>
<text x="68.70" y="403.00" font-size="7" text-anchor="middle" fill="#222">0.01</text>
<text x="136.20" y="403.00" font-size="7" text-anchor="middle" fill="#222">0.1</text>
<text x="3.20" y="402.20" font-size="7.05" text-anchor="start" fill="#222">Epo, U/ml</text>
<text x="10.30" y="227.60" font-size="11.7" text-anchor="start" font-weight="bold" fill="#000" class="lg">C</text>
<text x="55.8" y="220.9" font-size="8.95" fill="#222" class="tt"><tspan font-style="italic">JAK2</tspan> exon 12-mutated PV</text>
<line x1="370.80" y1="378.00" x2="513.00" y2="378.00" stroke="#a4a4a4" stroke-width="0.7"/>
<text x="367.60" y="381.00" font-size="6.4" text-anchor="end" fill="#222">0%</text>
<line x1="370.80" y1="365.20" x2="513.00" y2="365.20" stroke="#a4a4a4" stroke-width="0.7"/>
<text x="367.60" y="368.20" font-size="6.4" text-anchor="end" fill="#222">10%</text>
<line x1="370.80" y1="352.40" x2="513.00" y2="352.40" stroke="#a4a4a4" stroke-width="0.7"/>
<text x="367.60" y="355.40" font-size="6.4" text-anchor="end" fill="#222">20%</text>
<line x1="370.80" y1="339.60" x2="513.00" y2="339.60" stroke="#a4a4a4" stroke-width="0.7"/>
<text x="367.60" y="342.60" font-size="6.4" text-anchor="end" fill="#222">30%</text>
<line x1="370.80" y1="326.80" x2="513.00" y2="326.80" stroke="#a4a4a4" stroke-width="0.7"/>
<text x="367.60" y="329.80" font-size="6.4" text-anchor="end" fill="#222">40%</text>
<line x1="370.80" y1="314.00" x2="513.00" y2="314.00" stroke="#a4a4a4" stroke-width="0.7"/>
<text x="367.60" y="317.00" font-size="6.4" text-anchor="end" fill="#222">50%</text>
<line x1="370.80" y1="301.20" x2="513.00" y2="301.20" stroke="#a4a4a4" stroke-width="0.7"/>
<text x="367.60" y="304.20" font-size="6.4" text-anchor="end" fill="#222">60%</text>
<line x1="370.80" y1="288.40" x2="513.00" y2="288.40" stroke="#a4a4a4" stroke-width="0.7"/>
<text x="367.60" y="291.40" font-size="6.4" text-anchor="end" fill="#222">70%</text>
<line x1="370.80" y1="275.60" x2="513.00" y2="275.60" stroke="#a4a4a4" stroke-width="0.7"/>
<text x="367.60" y="278.60" font-size="6.4" text-anchor="end" fill="#222">80%</text>
<line x1="370.80" y1="262.80" x2="513.00" y2="262.80" stroke="#a4a4a4" stroke-width="0.7"/>
<text x="367.60" y="265.80" font-size="6.4" text-anchor="end" fill="#222">90%</text>
<line x1="370.80" y1="250.00" x2="513.00" y2="250.00" stroke="#a4a4a4" stroke-width="0.7"/>
<text x="367.60" y="253.00" font-size="6.4" text-anchor="end" fill="#222">100%</text>
<line x1="372.80" y1="250.00" x2="372.80" y2="378.00" stroke="#a8a8a8" stroke-width="0.8"/>
<rect x="375.00" y="250.00" width="2.20" height="32.00" fill="#daa6b0" stroke="#a89496" stroke-width="0.6"/>
<rect x="374.95" y="282.25" width="2.30" height="95.50" fill="#fff" stroke="#a0a0a0" stroke-width="0.6"/>
<rect x="380.20" y="250.00" width="2.20" height="35.33" fill="#daa6b0" stroke="#a89496" stroke-width="0.6"/>
<rect x="380.15" y="285.58" width="2.30" height="92.17" fill="#fff" stroke="#a0a0a0" stroke-width="0.6"/>
<text x="376.10" y="388.20" font-size="5.9" text-anchor="middle" fill="#222">1</text>
<text x="381.30" y="388.20" font-size="5.9" text-anchor="middle" fill="#222">2</text>
<text x="378.70" y="395.80" font-size="5.8" text-anchor="middle" fill="#222">PV1</text>
<rect x="391.08" y="250.00" width="2.20" height="102.40" fill="#daa6b0" stroke="#a89496" stroke-width="0.6"/>
<rect x="391.03" y="352.65" width="2.30" height="25.10" fill="#fff" stroke="#a0a0a0" stroke-width="0.6"/>
<rect x="396.28" y="250.00" width="2.20" height="126.72" fill="#daa6b0" stroke="#a89496" stroke-width="0.6"/>
<rect x="396.23" y="376.97" width="2.30" height="0.78" fill="#fff" stroke="#a0a0a0" stroke-width="0.6"/>
<text x="392.18" y="388.20" font-size="5.9" text-anchor="middle" fill="#222">1</text>
<text x="397.38" y="388.20" font-size="5.9" text-anchor="middle" fill="#222">2</text>
<text x="394.78" y="395.80" font-size="5.8" text-anchor="middle" fill="#222">PV5</text>
<rect x="406.86" y="250.00" width="2.80" height="54.27" fill="#b62b1f"/>
<rect x="407.16" y="304.27" width="2.20" height="24.70" fill="#daa6b0" stroke="#a89496" stroke-width="0.6"/>
<rect x="407.11" y="329.23" width="2.30" height="48.52" fill="#fff" stroke="#a0a0a0" stroke-width="0.6"/>
<rect x="412.06" y="250.00" width="2.80" height="43.90" fill="#b62b1f"/>
<rect x="412.36" y="293.90" width="2.20" height="32.38" fill="#daa6b0" stroke="#a89496" stroke-width="0.6"/>
<rect x="412.31" y="326.54" width="2.30" height="51.21" fill="#fff" stroke="#a0a0a0" stroke-width="0.6"/>
<text x="408.26" y="388.20" font-size="5.9" text-anchor="middle" fill="#222">1</text>
<text x="413.46" y="388.20" font-size="5.9" text-anchor="middle" fill="#222">2</text>
<text x="410.86" y="395.80" font-size="5.8" text-anchor="middle" fill="#222">PV17</text>
<rect x="422.94" y="250.00" width="2.80" height="93.70" fill="#b62b1f"/>
<rect x="423.24" y="343.70" width="2.20" height="34.30" fill="#daa6b0" stroke="#a89496" stroke-width="0.6"/>
<rect x="428.14" y="250.00" width="2.80" height="103.04" fill="#b62b1f"/>
<rect x="428.44" y="353.04" width="2.20" height="23.68" fill="#daa6b0" stroke="#a89496" stroke-width="0.6"/>
<rect x="428.39" y="376.97" width="2.30" height="0.78" fill="#fff" stroke="#a0a0a0" stroke-width="0.6"/>
<text x="424.34" y="388.20" font-size="5.9" text-anchor="middle" fill="#222">1</text>
<text x="429.54" y="388.20" font-size="5.9" text-anchor="middle" fill="#222">2</text>
<text x="426.94" y="395.80" font-size="5.8" text-anchor="middle" fill="#222">PV20</text>
<rect x="439.02" y="250.00" width="2.80" height="112.90" fill="#b62b1f"/>
<rect x="439.32" y="362.90" width="2.20" height="15.10" fill="#daa6b0" stroke="#a89496" stroke-width="0.6"/>
<rect x="444.22" y="250.00" width="2.80" height="115.20" fill="#b62b1f"/>
<rect x="444.52" y="365.20" width="2.20" height="12.80" fill="#daa6b0" stroke="#a89496" stroke-width="0.6"/>
<text x="440.42" y="388.20" font-size="5.9" text-anchor="middle" fill="#222">1</text>
<text x="445.62" y="388.20" font-size="5.9" text-anchor="middle" fill="#222">2</text>
<text x="443.02" y="395.80" font-size="5.8" text-anchor="middle" fill="#222">PV24</text>
<rect x="455.10" y="250.00" width="2.80" height="112.90" fill="#b62b1f"/>
<rect x="455.40" y="362.90" width="2.20" height="3.58" fill="#daa6b0" stroke="#a89496" stroke-width="0.6"/>
<rect x="455.35" y="366.73" width="2.30" height="11.02" fill="#fff" stroke="#a0a0a0" stroke-width="0.6"/>
<rect x="460.30" y="250.00" width="2.80" height="105.73" fill="#b62b1f"/>
<rect x="460.60" y="355.73" width="2.20" height="2.30" fill="#daa6b0" stroke="#a89496" stroke-width="0.6"/>
<rect x="460.55" y="358.28" width="2.30" height="19.47" fill="#fff" stroke="#a0a0a0" stroke-width="0.6"/>
<text x="456.50" y="388.20" font-size="5.9" text-anchor="middle" fill="#222">1</text>
<text x="461.70" y="388.20" font-size="5.9" text-anchor="middle" fill="#222">2</text>
<text x="459.10" y="395.80" font-size="5.8" text-anchor="middle" fill="#222">PV29</text>
<rect x="471.18" y="250.00" width="2.80" height="2.18" fill="#b62b1f"/>
<rect x="471.48" y="252.18" width="2.20" height="10.37" fill="#daa6b0" stroke="#a89496" stroke-width="0.6"/>
<rect x="471.43" y="262.79" width="2.30" height="114.96" fill="#fff" stroke="#a0a0a0" stroke-width="0.6"/>
<rect x="476.38" y="250.00" width="2.80" height="3.20" fill="#b62b1f"/>
<rect x="476.68" y="253.20" width="2.20" height="35.20" fill="#daa6b0" stroke="#a89496" stroke-width="0.6"/>
<rect x="476.63" y="288.65" width="2.30" height="89.10" fill="#fff" stroke="#a0a0a0" stroke-width="0.6"/>
<text x="472.58" y="388.20" font-size="5.9" text-anchor="middle" fill="#222">1</text>
<text x="477.78" y="388.20" font-size="5.9" text-anchor="middle" fill="#222">2</text>
<text x="475.18" y="395.80" font-size="5.8" text-anchor="middle" fill="#222">ET26</text>
<rect x="487.26" y="250.00" width="2.80" height="5.12" fill="#b62b1f"/>
<rect x="487.56" y="255.12" width="2.20" height="19.20" fill="#daa6b0" stroke="#a89496" stroke-width="0.6"/>
<rect x="487.51" y="274.57" width="2.30" height="103.18" fill="#fff" stroke="#a0a0a0" stroke-width="0.6"/>
<rect x="492.46" y="250.00" width="2.80" height="12.54" fill="#b62b1f"/>
<rect x="492.76" y="262.54" width="2.20" height="33.92" fill="#daa6b0" stroke="#a89496" stroke-width="0.6"/>
<rect x="492.71" y="296.71" width="2.30" height="81.04" fill="#fff" stroke="#a0a0a0" stroke-width="0.6"/>
<text x="488.66" y="388.20" font-size="5.9" text-anchor="middle" fill="#222">1</text>
<text x="493.86" y="388.20" font-size="5.9" text-anchor="middle" fill="#222">2</text>
<text x="491.26" y="395.80" font-size="5.8" text-anchor="middle" fill="#222">ET29</text>
<rect x="503.34" y="250.00" width="2.80" height="23.04" fill="#b62b1f"/>
<rect x="503.64" y="273.04" width="2.20" height="17.92" fill="#daa6b0" stroke="#a89496" stroke-width="0.6"/>
<rect x="503.59" y="291.21" width="2.30" height="86.54" fill="#fff" stroke="#a0a0a0" stroke-width="0.6"/>
<rect x="508.54" y="250.00" width="2.80" height="30.21" fill="#b62b1f"/>
<rect x="508.84" y="280.21" width="2.20" height="16.26" fill="#daa6b0" stroke="#a89496" stroke-width="0.6"/>
<rect x="508.79" y="296.71" width="2.30" height="81.04" fill="#fff" stroke="#a0a0a0" stroke-width="0.6"/>
<text x="504.74" y="388.20" font-size="5.9" text-anchor="middle" fill="#222">1</text>
<text x="509.94" y="388.20" font-size="5.9" text-anchor="middle" fill="#222">2</text>
<text x="507.34" y="395.80" font-size="5.8" text-anchor="middle" fill="#222">EX17</text>
<text x="349.50" y="228.00" font-size="11.3" text-anchor="start" font-weight="bold" fill="#000" class="lg">E</text>
<text x="418.9" y="236.9" font-size="9.1" text-anchor="middle" fill="#222" class="tt"><tspan font-style="italic">V617F</tspan> PV</text>
<text x="478" y="228" font-size="8.8" text-anchor="middle" font-style="italic" fill="#222" class="tt">V617F</text>
<text x="477.6" y="238.2" font-size="8.8" text-anchor="middle" fill="#222" class="tt">ET</text>
<text x="504.8" y="228" font-size="8.8" text-anchor="middle" fill="#222" class="tt">Ex12</text>
<text x="504.8" y="238.2" font-size="8.8" text-anchor="middle" fill="#222" class="tt">PV</text>
<path d="M370.60 244.50 L370.60 242.50 L460.20 242.50 L460.20 244.50" fill="none" stroke="#555" stroke-width="0.9"/>
<line x1="415.40" y1="242.50" x2="415.40" y2="240.70" stroke="#555" stroke-width="0.9"/>
<path d="M466.00 244.50 L466.00 242.50 L492.30 242.50 L492.30 244.50" fill="none" stroke="#555" stroke-width="0.9"/>
<line x1="479.00" y1="242.50" x2="479.00" y2="240.70" stroke="#555" stroke-width="0.9"/>
<path d="M497.50 244.50 L497.50 242.50 L510.40 242.50 L510.40 244.50" fill="none" stroke="#555" stroke-width="0.9"/>
<line x1="504.40" y1="242.50" x2="504.40" y2="240.70" stroke="#555" stroke-width="0.9"/>
<text x="190.60" y="227.50" font-size="11.3" text-anchor="start" font-weight="bold" fill="#000" class="lg">D</text>
<text x="263" y="247.7" font-size="8.3" text-anchor="middle" fill="#222"><tspan font-style="italic">K539del</tspan>-type: n=4</text>
<text x="263.9" y="320.1" font-size="8.3" text-anchor="middle" fill="#222"><tspan font-style="italic">E543del</tspan>-type: n=4</text>
<rect x="189.00" y="254.40" width="47.60" height="38.50" fill="#fff" stroke="#555" stroke-width="0.9"/>
<text x="192.45" y="259.70" font-size="3.0" text-anchor="middle" fill="#444" style="stroke:none">G</text>
<text x="195.36" y="259.70" font-size="3.0" text-anchor="middle" fill="#444" style="stroke:none">G</text>
<text x="198.27" y="259.70" font-size="3.0" text-anchor="middle" fill="#e07070" style="stroke:none">T</text>
<text x="201.17" y="259.70" font-size="3.0" text-anchor="middle" fill="#444" style="stroke:none">G</text>
<text x="204.08" y="259.70" font-size="3.0" text-anchor="middle" fill="#e07070" style="stroke:none">T</text>
<text x="206.99" y="259.70" font-size="3.0" text-anchor="middle" fill="#e07070" style="stroke:none">T</text>
<text x="209.89" y="259.70" font-size="3.0" text-anchor="middle" fill="#e07070" style="stroke:none">T</text>
<text x="212.80" y="259.70" font-size="3.0" text-anchor="middle" fill="#e07070" style="stroke:none">T</text>
<text x="215.71" y="259.70" font-size="3.0" text-anchor="middle" fill="#444" style="stroke:none">G</text>
<text x="218.61" y="259.70" font-size="3.0" text-anchor="middle" fill="#6e6ed8" style="stroke:none">A</text>
<text x="221.52" y="259.70" font-size="3.0" text-anchor="middle" fill="#444" style="stroke:none">G</text>
<text x="224.43" y="259.70" font-size="3.0" text-anchor="middle" fill="#6e6ed8" style="stroke:none">A</text>
<text x="227.33" y="259.70" font-size="3.0" text-anchor="middle" fill="#7cbc7c" style="stroke:none">A</text>
<text x="230.24" y="259.70" font-size="3.0" text-anchor="middle" fill="#7cbc7c" style="stroke:none">A</text>
<text x="233.15" y="259.70" font-size="3.0" text-anchor="middle" fill="#7cbc7c" style="stroke:none">A</text>
<polyline points="189.80,280.68 190.05,276.15 190.30,271.46 190.55,267.37 190.80,264.70 191.05,264.04 191.30,265.55 191.55,268.88 191.80,273.31 192.05,278.02 192.30,282.31 192.55,285.75 192.80,288.22 193.05,289.82 193.30,290.76 193.55,291.27 193.80,291.52 194.05,291.63" fill="none" stroke="#5c5c5c" stroke-width="0.7" stroke-linejoin="round"/>
<polyline points="192.80,291.68 193.05,291.64 193.30,291.54 193.55,291.34 193.80,290.95 194.05,290.24 194.30,289.07 194.55,287.35 194.80,285.06 195.05,282.33 195.30,279.50 195.55,277.03 195.80,275.42 196.05,275.03 196.30,275.93 196.55,277.94 196.80,280.61 197.05,283.45 197.30,286.04 197.55,288.11 197.80,289.60 198.05,290.57 198.30,291.13 198.55,291.44 198.80,291.59 199.05,291.66" fill="none" stroke="#5c5c5c" stroke-width="0.7" stroke-linejoin="round"/>
<polyline points="196.30,291.69 196.55,291.67 196.80,291.62 197.05,291.51 197.30,291.31 197.55,290.94 197.80,290.33 198.05,289.43 198.30,288.24 198.55,286.82 198.80,285.34 199.05,284.06 199.30,283.22 199.55,283.01 199.80,283.49 200.05,284.53 200.30,285.92 200.55,287.40 200.80,288.75 201.05,289.83 201.30,290.61 201.55,291.11 201.80,291.41 202.05,291.56 202.30,291.64 202.55,291.68" fill="none" stroke="#5c5c5c" stroke-width="0.7" stroke-linejoin="round"/>
<polyline points="199.30,291.66 199.55,291.59 199.80,291.44 200.05,291.11 200.30,290.45 200.55,289.27 200.80,287.34 201.05,284.49 201.30,280.68 201.55,276.15 201.80,271.46 202.05,267.37 202.30,264.70 202.55,264.04 202.80,265.55 203.05,268.88 203.30,273.31 203.55,278.02 203.80,282.31 204.05,285.75 204.30,288.22 204.55,289.82 204.80,290.76 205.05,291.27 205.30,291.52 205.55,291.63" fill="none" stroke="#5c5c5c" stroke-width="0.7" stroke-linejoin="round"/>
<polyline points="202.80,291.67 203.05,291.63 203.30,291.52 203.55,291.30 203.80,290.86 204.05,290.06 204.30,288.76 204.55,286.83 204.80,284.26 205.05,281.20 205.30,278.03 205.55,275.27 205.80,273.47 206.05,273.03 206.30,274.05 206.55,276.29 206.80,279.28 207.05,282.47 207.30,285.36 207.55,287.68 207.80,289.35 208.05,290.43 208.30,291.07 208.55,291.41 208.80,291.58 209.05,291.65" fill="none" stroke="#e07070" stroke-width="0.7" stroke-linejoin="round"/>
<polyline points="205.80,291.67 206.05,291.62 206.30,291.51 206.55,291.28 206.80,290.81 207.05,289.97 207.30,288.60 207.55,286.57 207.80,283.86 208.05,280.64 208.30,277.30 208.55,274.39 208.80,272.50 209.05,272.03 209.30,273.10 209.55,275.47 209.80,278.62 210.05,281.97 210.30,285.02 210.55,287.47 210.80,289.22 211.05,290.36 211.30,291.03 211.55,291.39 211.80,291.57 212.05,291.65" fill="none" stroke="#e07070" stroke-width="0.7" stroke-linejoin="round"/>
<polyline points="208.30,291.67 208.55,291.63 208.80,291.53 209.05,291.32 209.30,290.90 209.55,290.15 209.80,288.92 210.05,287.09 210.30,284.66 210.55,281.77 210.80,278.76 211.05,276.15 211.30,274.45 211.55,274.03 211.80,274.99 212.05,277.12 212.30,279.95 212.55,282.96 212.80,285.70 213.05,287.90 213.30,289.47 213.55,290.50 213.80,291.10 214.05,291.42 214.30,291.58 214.55,291.65" fill="none" stroke="#e07070" stroke-width="0.7" stroke-linejoin="round"/>
<polyline points="210.80,291.68 211.05,291.66 211.30,291.59 211.55,291.45 211.80,291.17 212.05,290.67 212.30,289.86 212.55,288.65 212.80,287.04 213.05,285.13 213.30,283.15 213.55,281.42 213.80,280.30 214.05,280.02 214.30,280.65 214.55,282.06 214.80,283.93 215.05,285.92 215.30,287.73 215.55,289.19 215.80,290.23 216.05,290.91 216.30,291.30 216.55,291.52 216.80,291.62 217.05,291.67" fill="none" stroke="#e07070" stroke-width="0.7" stroke-linejoin="round"/>
<polyline points="213.30,291.67 213.55,291.63 213.80,291.53 214.05,291.32 214.30,290.90 214.55,290.15 214.80,288.92 215.05,287.09 215.30,284.66 215.55,281.77 215.80,278.76 216.05,276.15 216.30,274.45 216.55,274.03 216.80,274.99 217.05,277.12 217.30,279.95 217.55,282.96 217.80,285.70 218.05,287.90 218.30,289.47 218.55,290.50 218.80,291.10 219.05,291.42 219.30,291.58 219.55,291.65" fill="none" stroke="#6e6ed8" stroke-width="0.7" stroke-linejoin="round"/>
<polyline points="216.30,291.68 216.55,291.65 216.80,291.57 217.05,291.41 217.30,291.08 217.55,290.50 217.80,289.54 218.05,288.13 218.30,286.25 218.55,284.01 218.80,281.69 219.05,279.67 219.30,278.35 219.55,278.02 219.80,278.77 220.05,280.41 220.30,282.60 220.55,284.93 220.80,287.05 221.05,288.76 221.30,289.98 221.55,290.77 221.80,291.24 222.05,291.49 222.30,291.61 222.55,291.66" fill="none" stroke="#6e6ed8" stroke-width="0.7" stroke-linejoin="round"/>
<polyline points="219.80,291.68 220.05,291.64 220.30,291.55 220.55,291.36 220.80,290.99 221.05,290.32 221.30,289.23 221.55,287.61 221.80,285.45 222.05,282.89 222.30,280.23 222.55,277.91 222.80,276.40 223.05,276.03 223.30,276.88 223.55,278.76 223.80,281.28 224.05,283.95 224.30,286.38 224.55,288.33 224.80,289.73 225.05,290.63 225.30,291.17 225.55,291.46 225.80,291.60 226.05,291.66" fill="none" stroke="#6e6ed8" stroke-width="0.7" stroke-linejoin="round"/>
<polyline points="222.80,291.68 223.05,291.66 223.30,291.60 223.55,291.47 223.80,291.22 224.05,290.76 224.30,290.02 224.55,288.91 224.80,287.44 225.05,285.69 225.30,283.88 225.55,282.30 225.80,281.27 226.05,281.02 226.30,281.60 226.55,282.88 226.80,284.60 227.05,286.42 227.30,288.07 227.55,289.40 227.80,290.35 228.05,290.97 228.30,291.34 228.55,291.53 228.80,291.63 229.05,291.67" fill="none" stroke="#7cbc7c" stroke-width="0.7" stroke-linejoin="round"/>
<polyline points="225.80,291.68 226.05,291.65 226.30,291.57 226.55,291.41 226.80,291.08 227.05,290.50 227.30,289.54 227.55,288.13 227.80,286.25 228.05,284.01 228.30,281.69 228.55,279.67 228.80,278.35 229.05,278.02 229.30,278.77 229.55,280.41 229.80,282.60 230.05,284.93 230.30,287.05 230.55,288.76 230.80,289.98 231.05,290.77 231.30,291.24 231.55,291.49 231.80,291.61 232.05,291.66" fill="none" stroke="#7cbc7c" stroke-width="0.7" stroke-linejoin="round"/>
<polyline points="228.80,291.68 229.05,291.65 229.30,291.58 229.55,291.43 229.80,291.13 230.05,290.59 230.30,289.70 230.55,288.39 230.80,286.65 231.05,284.57 231.30,282.42 231.55,280.54 231.80,279.32 232.05,279.02 232.30,279.71 232.55,281.24 232.80,283.27 233.05,285.43 233.30,287.39 233.55,288.97 233.80,290.10 234.05,290.84 234.30,291.27 234.55,291.50 234.80,291.62 235.05,291.67" fill="none" stroke="#7cbc7c" stroke-width="0.7" stroke-linejoin="round"/>
<polyline points="231.30,291.68 231.55,291.64 231.80,291.55 232.05,291.36 232.30,290.99 232.55,290.32 232.80,289.23 233.05,287.61 233.30,285.45 233.55,282.89 233.80,280.23 234.05,277.91 234.30,276.40 234.55,276.03 234.80,276.88 235.05,278.76 235.30,281.28 235.55,283.95 235.80,286.38" fill="none" stroke="#7cbc7c" stroke-width="0.7" stroke-linejoin="round"/>
<rect x="239.40" y="254.20" width="48.20" height="38.70" fill="#fff" stroke="#555" stroke-width="0.9"/>
<text x="242.87" y="259.50" font-size="3.0" text-anchor="middle" fill="#444" style="stroke:none">G</text>
<text x="245.82" y="259.50" font-size="3.0" text-anchor="middle" fill="#444" style="stroke:none">G</text>
<text x="248.77" y="259.50" font-size="3.0" text-anchor="middle" fill="#e07070" style="stroke:none">T</text>
<text x="251.71" y="259.50" font-size="3.0" text-anchor="middle" fill="#444" style="stroke:none">G</text>
<text x="254.66" y="259.50" font-size="3.0" text-anchor="middle" fill="#e07070" style="stroke:none">T</text>
<text x="257.61" y="259.50" font-size="3.0" text-anchor="middle" fill="#e07070" style="stroke:none">T</text>
<text x="260.55" y="259.50" font-size="3.0" text-anchor="middle" fill="#7cbc7c" style="stroke:none">A</text>
<text x="263.50" y="259.50" font-size="3.0" text-anchor="middle" fill="#7cbc7c" style="stroke:none">A</text>
<text x="266.45" y="259.50" font-size="3.0" text-anchor="middle" fill="#e07070" style="stroke:none">T</text>
<text x="269.39" y="259.50" font-size="3.0" text-anchor="middle" fill="#444" style="stroke:none">G</text>
<text x="272.34" y="259.50" font-size="3.0" text-anchor="middle" fill="#7cbc7c" style="stroke:none">A</text>
<text x="275.29" y="259.50" font-size="3.0" text-anchor="middle" fill="#7cbc7c" style="stroke:none">A</text>
<text x="278.23" y="259.50" font-size="3.0" text-anchor="middle" fill="#7cbc7c" style="stroke:none">A</text>
<text x="281.18" y="259.50" font-size="3.0" text-anchor="middle" fill="#444" style="stroke:none">G</text>
<text x="284.13" y="259.50" font-size="3.0" text-anchor="middle" fill="#444" style="stroke:none">G</text>
<polyline points="240.00,271.46 240.25,267.37 240.50,264.70 240.75,264.04 241.00,265.55 241.25,268.88 241.50,273.31 241.75,278.02 242.00,282.31 242.25,285.75 242.50,288.22 242.75,289.82 243.00,290.76 243.25,291.27 243.50,291.52 243.75,291.63" fill="none" stroke="#5c5c5c" stroke-width="0.7" stroke-linejoin="round"/>
<polyline points="240.80,291.67 241.05,291.62 241.30,291.50 241.55,291.23 241.80,290.72 242.05,289.80 242.30,288.29 242.55,286.05 242.80,283.07 243.05,279.52 243.30,275.84 243.55,272.64 243.80,270.55 244.05,270.03 244.30,271.21 244.55,273.82 244.80,277.29 245.05,280.98 245.30,284.34 245.55,287.04 245.80,288.97 246.05,290.23 246.30,290.97 246.55,291.36 246.80,291.56 247.05,291.64" fill="none" stroke="#5c5c5c" stroke-width="0.7" stroke-linejoin="round"/>
<polyline points="244.80,291.68 245.05,291.64 245.30,291.56 245.55,291.38 245.80,291.04 246.05,290.41 246.30,289.39 246.55,287.87 246.80,285.85 247.05,283.45 247.30,280.96 247.55,278.79 247.80,277.37 248.05,277.02 248.30,277.82 248.55,279.59 248.80,281.94 249.05,284.44 249.30,286.72 249.55,288.54 249.80,289.85 250.05,290.70 250.30,291.20 250.55,291.47 250.80,291.60 251.05,291.66" fill="none" stroke="#e07070" stroke-width="0.7" stroke-linejoin="round"/>
<polyline points="248.30,291.66 248.55,291.59 248.80,291.44 249.05,291.11 249.30,290.45 249.55,289.27 249.80,287.34 250.05,284.49 250.30,280.68 250.55,276.15 250.80,271.46 251.05,267.37 251.30,264.70 251.55,264.04 251.80,265.55 252.05,268.88 252.30,273.31 252.55,278.02 252.80,282.31 253.05,285.75 253.30,288.22 253.55,289.82 253.80,290.76 254.05,291.27 254.30,291.52 254.55,291.63" fill="none" stroke="#5c5c5c" stroke-width="0.7" stroke-linejoin="round"/>
<polyline points="251.80,291.67 252.05,291.62 252.30,291.50 252.55,291.23 252.80,290.72 253.05,289.80 253.30,288.29 253.55,286.05 253.80,283.07 254.05,279.52 254.30,275.84 254.55,272.64 254.80,270.55 255.05,270.03 255.30,271.21 255.55,273.82 255.80,277.29 256.05,280.98 256.30,284.34 256.55,287.04 256.80,288.97 257.05,290.23 257.30,290.97 257.55,291.36 257.80,291.56 258.05,291.64" fill="none" stroke="#e07070" stroke-width="0.7" stroke-linejoin="round"/>
<polyline points="255.30,291.67 255.55,291.63 255.80,291.52 256.05,291.30 256.30,290.86 256.55,290.06 256.80,288.76 257.05,286.83 257.30,284.26 257.55,281.20 257.80,278.03 258.05,275.27 258.30,273.47 258.55,273.03 258.80,274.05 259.05,276.29 259.30,279.28 259.55,282.47 259.80,285.36 260.05,287.68 260.30,289.35 260.55,290.43 260.80,291.07 261.05,291.41 261.30,291.58 261.55,291.65" fill="none" stroke="#e07070" stroke-width="0.7" stroke-linejoin="round"/>
<polyline points="258.30,291.69 258.55,291.67 258.80,291.62 259.05,291.51 259.30,291.31 259.55,290.94 259.80,290.33 260.05,289.43 260.30,288.24 260.55,286.82 260.80,285.34 261.05,284.06 261.30,283.22 261.55,283.01 261.80,283.49 262.05,284.53 262.30,285.92 262.55,287.40 262.80,288.75 263.05,289.83 263.30,290.61 263.55,291.11 263.80,291.41 264.05,291.56 264.30,291.64 264.55,291.68" fill="none" stroke="#5c5c5c" stroke-width="0.7" stroke-linejoin="round"/>
<polyline points="260.80,291.69 261.05,291.66 261.30,291.61 261.55,291.49 261.80,291.26 262.05,290.85 262.30,290.17 262.55,289.17 262.80,287.84 263.05,286.26 263.30,284.61 263.55,283.18 263.80,282.25 264.05,282.02 264.30,282.54 264.55,283.71 264.80,285.26 265.05,286.91 265.30,288.41 265.55,289.62 265.80,290.48 266.05,291.04 266.30,291.37 266.55,291.55 266.80,291.64 267.05,291.67" fill="none" stroke="#6e6ed8" stroke-width="0.7" stroke-linejoin="round"/>
<polyline points="263.80,291.69 264.05,291.66 264.30,291.61 264.55,291.49 264.80,291.26 265.05,290.85 265.30,290.17 265.55,289.17 265.80,287.84 266.05,286.26 266.30,284.61 266.55,283.18 266.80,282.25 267.05,282.02 267.30,282.54 267.55,283.71 267.80,285.26 268.05,286.91 268.30,288.41 268.55,289.62 268.80,290.48 269.05,291.04 269.30,291.37 269.55,291.55 269.80,291.64 270.05,291.67" fill="none" stroke="#5c5c5c" stroke-width="0.7" stroke-linejoin="round"/>
<polyline points="267.30,291.67 267.55,291.62 267.80,291.51 268.05,291.28 268.30,290.81 268.55,289.97 268.80,288.60 269.05,286.57 269.30,283.86 269.55,280.64 269.80,277.30 270.05,274.39 270.30,272.50 270.55,272.03 270.80,273.10 271.05,275.47 271.30,278.62 271.55,281.97 271.80,285.02 272.05,287.47 272.30,289.22 272.55,290.36 272.80,291.03 273.05,291.39 273.30,291.57 273.55,291.65" fill="none" stroke="#6e6ed8" stroke-width="0.7" stroke-linejoin="round"/>
<polyline points="270.30,291.68 270.55,291.64 270.80,291.55 271.05,291.36 271.30,290.99 271.55,290.32 271.80,289.23 272.05,287.61 272.30,285.45 272.55,282.89 272.80,280.23 273.05,277.91 273.30,276.40 273.55,276.03 273.80,276.88 274.05,278.76 274.30,281.28 274.55,283.95 274.80,286.38 275.05,288.33 275.30,289.73 275.55,290.63 275.80,291.17 276.05,291.46 276.30,291.60 276.55,291.66" fill="none" stroke="#5c5c5c" stroke-width="0.7" stroke-linejoin="round"/>
<polyline points="273.80,291.69 274.05,291.66 274.30,291.61 274.55,291.49 274.80,291.26 275.05,290.85 275.30,290.17 275.55,289.17 275.80,287.84 276.05,286.26 276.30,284.61 276.55,283.18 276.80,282.25 277.05,282.02 277.30,282.54 277.55,283.71 277.80,285.26 278.05,286.91 278.30,288.41 278.55,289.62 278.80,290.48 279.05,291.04 279.30,291.37 279.55,291.55 279.80,291.64 280.05,291.67" fill="none" stroke="#7cbc7c" stroke-width="0.7" stroke-linejoin="round"/>
<polyline points="277.30,291.67 277.55,291.62 277.80,291.51 278.05,291.28 278.30,290.81 278.55,289.97 278.80,288.60 279.05,286.57 279.30,283.86 279.55,280.64 279.80,277.30 280.05,274.39 280.30,272.50 280.55,272.03 280.80,273.10 281.05,275.47 281.30,278.62 281.55,281.97 281.80,285.02 282.05,287.47 282.30,289.22 282.55,290.36 282.80,291.03 283.05,291.39 283.30,291.57 283.55,291.65" fill="none" stroke="#7cbc7c" stroke-width="0.7" stroke-linejoin="round"/>
<polyline points="280.80,291.68 281.05,291.64 281.30,291.55 281.55,291.36 281.80,290.99 282.05,290.32 282.30,289.23 282.55,287.61 282.80,285.45 283.05,282.89 283.30,280.23 283.55,277.91 283.80,276.40 284.05,276.03 284.30,276.88 284.55,278.76 284.80,281.28 285.05,283.95 285.30,286.38 285.55,288.33 285.80,289.73 286.05,290.63 286.30,291.17 286.55,291.46 286.80,291.60" fill="none" stroke="#7cbc7c" stroke-width="0.7" stroke-linejoin="round"/>
<polyline points="283.30,291.69 283.55,291.67 283.80,291.64 284.05,291.56 284.30,291.40 284.55,291.11 284.80,290.65 285.05,289.96 285.30,289.03 285.55,287.94 285.80,286.80 286.05,285.81 286.30,285.17 286.55,285.01 286.80,285.38" fill="none" stroke="#5c5c5c" stroke-width="0.7" stroke-linejoin="round"/>
<rect x="290.50" y="254.20" width="48.90" height="38.80" fill="#fff" stroke="#555" stroke-width="0.9"/>
<text x="294.00" y="259.50" font-size="3.0" text-anchor="middle" fill="#444" style="stroke:none">G</text>
<text x="296.99" y="259.50" font-size="3.0" text-anchor="middle" fill="#444" style="stroke:none">G</text>
<text x="299.98" y="259.50" font-size="3.0" text-anchor="middle" fill="#e07070" style="stroke:none">T</text>
<text x="302.98" y="259.50" font-size="3.0" text-anchor="middle" fill="#444" style="stroke:none">G</text>
<text x="305.97" y="259.50" font-size="3.0" text-anchor="middle" fill="#e07070" style="stroke:none">T</text>
<text x="308.96" y="259.50" font-size="3.0" text-anchor="middle" fill="#e07070" style="stroke:none">T</text>
<text x="311.96" y="259.50" font-size="3.0" text-anchor="middle" fill="#e07070" style="stroke:none">T</text>
<text x="314.95" y="259.50" font-size="3.0" text-anchor="middle" fill="#7cbc7c" style="stroke:none">A</text>
<text x="317.94" y="259.50" font-size="3.0" text-anchor="middle" fill="#7cbc7c" style="stroke:none">A</text>
<text x="320.94" y="259.50" font-size="3.0" text-anchor="middle" fill="#e07070" style="stroke:none">T</text>
<text x="323.93" y="259.50" font-size="3.0" text-anchor="middle" fill="#6e6ed8" style="stroke:none">C</text>
<text x="326.92" y="259.50" font-size="3.0" text-anchor="middle" fill="#7cbc7c" style="stroke:none">A</text>
<text x="329.92" y="259.50" font-size="3.0" text-anchor="middle" fill="#444" style="stroke:none">G</text>
<text x="332.91" y="259.50" font-size="3.0" text-anchor="middle" fill="#7cbc7c" style="stroke:none">A</text>
<text x="335.90" y="259.50" font-size="3.0" text-anchor="middle" fill="#7cbc7c" style="stroke:none">A</text>
<polyline points="291.30,272.21 291.55,268.26 291.80,265.68 292.05,265.04 292.30,266.50 292.55,269.72 292.80,274.01 293.05,278.57 293.30,282.71 293.55,286.04 293.80,288.43 294.05,289.98 294.30,290.89 294.55,291.38 294.80,291.62 295.05,291.73" fill="none" stroke="#5c5c5c" stroke-width="0.7" stroke-linejoin="round"/>
<polyline points="292.80,291.77 293.05,291.73 293.30,291.62 293.55,291.40 293.80,290.95 294.05,290.15 294.30,288.84 294.55,286.90 294.80,284.32 295.05,281.25 295.30,278.06 295.55,275.29 295.80,273.48 296.05,273.03 296.30,274.05 296.55,276.31 296.80,279.32 297.05,282.52 297.30,285.43 297.55,287.76 297.80,289.44 298.05,290.52 298.30,291.16 298.55,291.51 298.80,291.68 299.05,291.75" fill="none" stroke="#5c5c5c" stroke-width="0.7" stroke-linejoin="round"/>
<polyline points="296.80,291.78 297.05,291.75 297.30,291.68 297.55,291.53 297.80,291.22 298.05,290.68 298.30,289.79 298.55,288.47 298.80,286.71 299.05,284.62 299.30,282.45 299.55,280.56 299.80,279.32 300.05,279.02 300.30,279.72 300.55,281.25 300.80,283.30 301.05,285.48 301.30,287.46 301.55,289.05 301.80,290.19 302.05,290.93 302.30,291.37 302.55,291.60 302.80,291.72 303.05,291.77" fill="none" stroke="#e07070" stroke-width="0.7" stroke-linejoin="round"/>
<polyline points="299.80,291.76 300.05,291.70 300.30,291.56 300.55,291.25 300.80,290.63 301.05,289.54 301.30,287.74 301.55,285.08 301.80,281.53 302.05,277.32 302.30,272.95 302.55,269.14 302.80,266.65 303.05,266.04 303.30,267.44 303.55,270.54 303.80,274.67 304.05,279.06 304.30,283.05 304.55,286.26 304.80,288.56 305.05,290.05 305.30,290.93 305.55,291.40 305.80,291.63 306.05,291.73" fill="none" stroke="#5c5c5c" stroke-width="0.7" stroke-linejoin="round"/>
<polyline points="303.80,291.78 304.05,291.74 304.30,291.64 304.55,291.44 304.80,291.04 305.05,290.33 305.30,289.16 305.55,287.43 305.80,285.12 306.05,282.37 306.30,279.52 306.55,277.04 306.80,275.42 307.05,275.03 307.30,275.94 307.55,277.96 307.80,280.65 308.05,283.50 308.30,286.10 308.55,288.19 308.80,289.69 309.05,290.66 309.30,291.23 309.55,291.54 309.80,291.69 310.05,291.76" fill="none" stroke="#e07070" stroke-width="0.7" stroke-linejoin="round"/>
<polyline points="307.30,291.78 307.55,291.75 307.80,291.68 308.05,291.53 308.30,291.22 308.55,290.68 308.80,289.79 309.05,288.47 309.30,286.71 309.55,284.62 309.80,282.45 310.05,280.56 310.30,279.32 310.55,279.02 310.80,279.72 311.05,281.25 311.30,283.30 311.55,285.48 311.80,287.46 312.05,289.05 312.30,290.19 312.55,290.93 312.80,291.37 313.05,291.60 313.30,291.72 313.55,291.77" fill="none" stroke="#e07070" stroke-width="0.7" stroke-linejoin="round"/>
<polyline points="310.80,291.78 311.05,291.76 311.30,291.70 311.55,291.57 311.80,291.31 312.05,290.85 312.30,290.10 312.55,288.99 312.80,287.50 313.05,285.74 313.30,283.91 313.55,282.31 313.80,281.27 314.05,281.02 314.30,281.60 314.55,282.90 314.80,284.63 315.05,286.47 315.30,288.14 315.55,289.48 315.80,290.44 316.05,291.07 316.30,291.43 316.55,291.63 316.80,291.73 317.05,291.77" fill="none" stroke="#7cbc7c" stroke-width="0.7" stroke-linejoin="round"/>
<polyline points="313.80,291.78 314.05,291.75 314.30,291.67 314.55,291.50 314.80,291.18 315.05,290.59 315.30,289.63 315.55,288.21 315.80,286.31 316.05,284.05 316.30,281.71 316.55,279.68 316.80,278.35 317.05,278.02 317.30,278.77 317.55,280.43 317.80,282.64 318.05,284.99 318.30,287.12 318.55,288.83 318.80,290.06 319.05,290.86 319.30,291.33 319.55,291.58 319.80,291.71 320.05,291.76" fill="none" stroke="#5c5c5c" stroke-width="0.7" stroke-linejoin="round"/>
<polyline points="317.30,291.78 317.55,291.74 317.80,291.66 318.05,291.48 318.30,291.13 318.55,290.50 318.80,289.47 319.05,287.95 319.30,285.91 319.55,283.49 319.80,280.98 320.05,278.80 320.30,277.37 320.55,277.02 320.80,277.83 321.05,279.60 321.30,281.97 321.55,284.49 321.80,286.78 322.05,288.62 322.30,289.94 322.55,290.79 322.80,291.30 323.05,291.57 323.30,291.70 323.55,291.76" fill="none" stroke="#e07070" stroke-width="0.7" stroke-linejoin="round"/>
<polyline points="320.30,291.78 320.55,291.75 320.80,291.68 321.05,291.53 321.30,291.22 321.55,290.68 321.80,289.79 322.05,288.47 322.30,286.71 322.55,284.62 322.80,282.45 323.05,280.56 323.30,279.32 323.55,279.02 323.80,279.72 324.05,281.25 324.30,283.30 324.55,285.48 324.80,287.46 325.05,289.05 325.30,290.19 325.55,290.93 325.80,291.37 326.05,291.60 326.30,291.72 326.55,291.77" fill="none" stroke="#6e6ed8" stroke-width="0.7" stroke-linejoin="round"/>
<polyline points="323.80,291.79 324.05,291.76 324.30,291.71 324.55,291.59 324.80,291.36 325.05,290.94 325.30,290.26 325.55,289.25 325.80,287.90 326.05,286.30 326.30,284.64 326.55,283.19 326.80,282.25 327.05,282.02 327.30,282.55 327.55,283.72 327.80,285.29 328.05,286.96 328.30,288.48 328.55,289.69 328.80,290.57 329.05,291.13 329.30,291.47 329.55,291.65 329.80,291.74 330.05,291.77" fill="none" stroke="#5c5c5c" stroke-width="0.7" stroke-linejoin="round"/>
<polyline points="326.80,291.79 327.05,291.77 327.30,291.74 327.55,291.65 327.80,291.49 328.05,291.20 328.30,290.73 328.55,290.03 328.80,289.09 329.05,287.98 329.30,286.83 329.55,285.83 329.80,285.17 330.05,285.01 330.30,285.38 330.55,286.20 330.80,287.29 331.05,288.44 331.30,289.49 331.55,290.34 331.80,290.95 332.05,291.34 332.30,291.57 332.55,291.69 332.80,291.75 333.05,291.78" fill="none" stroke="#6e6ed8" stroke-width="0.7" stroke-linejoin="round"/>
<polyline points="330.80,291.77 331.05,291.72 331.30,291.60 331.55,291.35 331.80,290.86 332.05,289.98 332.30,288.53 332.55,286.38 332.80,283.52 333.05,280.13 333.30,276.60 333.55,273.53 333.80,271.53 334.05,271.03 334.30,272.16 334.55,274.66 334.80,277.99 335.05,281.53 335.30,284.75 335.55,287.33 335.80,289.18 336.05,290.39 336.30,291.10 336.55,291.48 336.80,291.66 337.05,291.75" fill="none" stroke="#7cbc7c" stroke-width="0.7" stroke-linejoin="round"/>
<polyline points="333.80,291.78 334.05,291.75 334.30,291.67 334.55,291.50 334.80,291.18 335.05,290.59 335.30,289.63 335.55,288.21 335.80,286.31 336.05,284.05 336.30,281.71 336.55,279.68 336.80,278.35 337.05,278.02 337.30,278.77 337.55,280.43 337.80,282.64 338.05,284.99 338.30,287.12 338.55,288.83" fill="none" stroke="#7cbc7c" stroke-width="0.7" stroke-linejoin="round"/>
<rect x="188.80" y="326.00" width="48.80" height="39.00" fill="#fff" stroke="#555" stroke-width="0.9"/>
<text x="192.40" y="331.30" font-size="3.0" text-anchor="middle" fill="#e07070" style="stroke:none">T</text>
<text x="195.60" y="331.30" font-size="3.0" text-anchor="middle" fill="#6e6ed8" style="stroke:none">C</text>
<text x="198.80" y="331.30" font-size="3.0" text-anchor="middle" fill="#7cbc7c" style="stroke:none">A</text>
<text x="202.00" y="331.30" font-size="3.0" text-anchor="middle" fill="#444" style="stroke:none">G</text>
<text x="205.20" y="331.30" font-size="3.0" text-anchor="middle" fill="#7cbc7c" style="stroke:none">A</text>
<text x="208.40" y="331.30" font-size="3.0" text-anchor="middle" fill="#7cbc7c" style="stroke:none">A</text>
<text x="211.60" y="331.30" font-size="3.0" text-anchor="middle" fill="#7cbc7c" style="stroke:none">A</text>
<text x="214.80" y="331.30" font-size="3.0" text-anchor="middle" fill="#e07070" style="stroke:none">T</text>
<text x="218.00" y="331.30" font-size="3.0" text-anchor="middle" fill="#444" style="stroke:none">G</text>
<text x="221.20" y="331.30" font-size="3.0" text-anchor="middle" fill="#7cbc7c" style="stroke:none">A</text>
<text x="224.40" y="331.30" font-size="3.0" text-anchor="middle" fill="#7cbc7c" style="stroke:none">A</text>
<text x="227.60" y="331.30" font-size="3.0" text-anchor="middle" fill="#444" style="stroke:none">G</text>
<text x="230.80" y="331.30" font-size="3.0" text-anchor="middle" fill="#7cbc7c" style="stroke:none">A</text>
<text x="234.00" y="331.30" font-size="3.0" text-anchor="middle" fill="#e07070" style="stroke:none">T</text>
<polyline points="189.55,349.04 189.80,347.42 190.05,347.03 190.30,347.94 190.55,349.96 190.80,352.65 191.05,355.50 191.30,358.10 191.55,360.19 191.80,361.69 192.05,362.66 192.30,363.23 192.55,363.54 192.80,363.69 193.05,363.76" fill="none" stroke="#e07070" stroke-width="0.7" stroke-linejoin="round"/>
<polyline points="191.30,363.77 191.55,363.73 191.80,363.63 192.05,363.42 192.30,363.00 192.55,362.24 192.80,361.00 193.05,359.17 193.30,356.72 193.55,353.81 193.80,350.79 194.05,348.16 194.30,346.45 194.55,346.03 194.80,347.00 195.05,349.13 195.30,351.98 195.55,355.01 195.80,357.76 196.05,359.97 196.30,361.56 196.55,362.59 196.80,363.20 197.05,363.52 197.30,363.68 197.55,363.75" fill="none" stroke="#6e6ed8" stroke-width="0.7" stroke-linejoin="round"/>
<polyline points="194.30,363.78 194.55,363.75 194.80,363.68 195.05,363.53 195.30,363.22 195.55,362.68 195.80,361.79 196.05,360.47 196.30,358.71 196.55,356.62 196.80,354.45 197.05,352.56 197.30,351.32 197.55,351.02 197.80,351.72 198.05,353.25 198.30,355.30 198.55,357.48 198.80,359.46 199.05,361.05 199.30,362.19 199.55,362.93 199.80,363.37 200.05,363.60 200.30,363.72 200.55,363.77" fill="none" stroke="#6e6ed8" stroke-width="0.7" stroke-linejoin="round"/>
<polyline points="197.30,363.79 197.55,363.77 197.80,363.73 198.05,363.63 198.30,363.45 198.55,363.12 198.80,362.57 199.05,361.77 199.30,360.70 199.55,359.42 199.80,358.10 200.05,356.95 200.30,356.20 200.55,356.01 200.80,356.44 201.05,357.37 201.30,358.62 201.55,359.95 201.80,361.16 202.05,362.12 202.30,362.82 202.55,363.27 202.80,363.54 203.05,363.68 203.30,363.75 203.55,363.78" fill="none" stroke="#5c5c5c" stroke-width="0.7" stroke-linejoin="round"/>
<polyline points="201.80,363.76 202.05,363.71 202.30,363.57 202.55,363.27 202.80,362.68 203.05,361.62 203.30,359.90 203.55,357.34 203.80,353.93 204.05,349.88 204.30,345.68 204.55,342.01 204.80,339.63 205.05,339.04 205.30,340.39 205.55,343.37 205.80,347.33 206.05,351.55 206.30,355.39 206.55,358.47 206.80,360.68 207.05,362.12 207.30,362.96 207.55,363.41 207.80,363.64 208.05,363.74" fill="none" stroke="#7cbc7c" stroke-width="0.7" stroke-linejoin="round"/>
<polyline points="205.30,363.78 205.55,363.74 205.80,363.66 206.05,363.48 206.30,363.13 206.55,362.50 206.80,361.47 207.05,359.95 207.30,357.91 207.55,355.49 207.80,352.98 208.05,350.80 208.30,349.37 208.55,349.02 208.80,349.83 209.05,351.60 209.30,353.97 209.55,356.49 209.80,358.78 210.05,360.62 210.30,361.94 210.55,362.79 210.80,363.30 211.05,363.57 211.30,363.70 211.55,363.76" fill="none" stroke="#7cbc7c" stroke-width="0.7" stroke-linejoin="round"/>
<polyline points="208.30,363.78 208.55,363.74 208.80,363.64 209.05,363.44 209.30,363.04 209.55,362.33 209.80,361.16 210.05,359.43 210.30,357.12 210.55,354.37 210.80,351.52 211.05,349.04 211.30,347.42 211.55,347.03 211.80,347.94 212.05,349.96 212.30,352.65 212.55,355.50 212.80,358.10 213.05,360.19 213.30,361.69 213.55,362.66 213.80,363.23 214.05,363.54 214.30,363.69 214.55,363.76" fill="none" stroke="#7cbc7c" stroke-width="0.7" stroke-linejoin="round"/>
<polyline points="211.80,363.78 212.05,363.74 212.30,363.64 212.55,363.44 212.80,363.04 213.05,362.33 213.30,361.16 213.55,359.43 213.80,357.12 214.05,354.37 214.30,351.52 214.55,349.04 214.80,347.42 215.05,347.03 215.30,347.94 215.55,349.96 215.80,352.65 216.05,355.50 216.30,358.10 216.55,360.19 216.80,361.69 217.05,362.66 217.30,363.23 217.55,363.54 217.80,363.69 218.05,363.76" fill="none" stroke="#e07070" stroke-width="0.7" stroke-linejoin="round"/>
<polyline points="215.30,363.77 215.55,363.72 215.80,363.59 216.05,363.33 216.30,362.82 216.55,361.89 216.80,360.37 217.05,358.12 217.30,355.13 217.55,351.56 217.80,347.87 218.05,344.65 218.30,342.55 218.55,342.03 218.80,343.22 219.05,345.84 219.30,349.33 219.55,353.03 219.80,356.41 220.05,359.12 220.30,361.06 220.55,362.32 220.80,363.06 221.05,363.46 221.30,363.66 221.55,363.74" fill="none" stroke="#5c5c5c" stroke-width="0.7" stroke-linejoin="round"/>
<polyline points="219.30,363.77 219.55,363.72 219.80,363.60 220.05,363.35 220.30,362.86 220.55,361.98 220.80,360.53 221.05,358.38 221.30,355.52 221.55,352.13 221.80,348.60 222.05,345.53 222.30,343.53 222.55,343.03 222.80,344.16 223.05,346.66 223.30,349.99 223.55,353.53 223.80,356.75 224.05,359.33 224.30,361.18 224.55,362.39 224.80,363.10 225.05,363.48 225.30,363.66 225.55,363.75" fill="none" stroke="#7cbc7c" stroke-width="0.7" stroke-linejoin="round"/>
<polyline points="222.80,363.78 223.05,363.75 223.30,363.67 223.55,363.50 223.80,363.18 224.05,362.59 224.30,361.63 224.55,360.21 224.80,358.31 225.05,356.05 225.30,353.71 225.55,351.68 225.80,350.35 226.05,350.02 226.30,350.77 226.55,352.43 226.80,354.64 227.05,356.99 227.30,359.12 227.55,360.83 227.80,362.06 228.05,362.86 228.30,363.33 228.55,363.58 228.80,363.71 229.05,363.76" fill="none" stroke="#7cbc7c" stroke-width="0.7" stroke-linejoin="round"/>
<polyline points="225.80,363.79 226.05,363.77 226.30,363.73 226.55,363.63 226.80,363.45 227.05,363.12 227.30,362.57 227.55,361.77 227.80,360.70 228.05,359.42 228.30,358.10 228.55,356.95 228.80,356.20 229.05,356.01 229.30,356.44 229.55,357.37 229.80,358.62 230.05,359.95 230.30,361.16 230.55,362.12 230.80,362.82 231.05,363.27 231.30,363.54 231.55,363.68 231.80,363.75 232.05,363.78" fill="none" stroke="#5c5c5c" stroke-width="0.7" stroke-linejoin="round"/>
<polyline points="229.80,363.76 230.05,363.69 230.30,363.54 230.55,363.20 230.80,362.54 231.05,361.36 231.30,359.43 231.55,356.56 231.80,352.74 232.05,348.20 232.30,343.48 232.55,339.38 232.80,336.70 233.05,336.04 233.30,337.56 233.55,340.89 233.80,345.34 234.05,350.07 234.30,354.37 234.55,357.83 234.80,360.30 235.05,361.91 235.30,362.86 235.55,363.37 235.80,363.62 236.05,363.73" fill="none" stroke="#7cbc7c" stroke-width="0.7" stroke-linejoin="round"/>
<polyline points="233.30,363.77 233.55,363.73 233.80,363.62 234.05,363.40 234.30,362.95 234.55,362.15 234.80,360.84 235.05,358.90 235.30,356.32 235.55,353.25 235.80,350.06 236.05,347.29 236.30,345.48 236.55,345.03 236.80,346.05" fill="none" stroke="#e07070" stroke-width="0.7" stroke-linejoin="round"/>
<rect x="240.00" y="325.80" width="49.00" height="39.40" fill="#fff" stroke="#555" stroke-width="0.9"/>
<text x="243.61" y="331.10" font-size="3.0" text-anchor="middle" fill="#e07070" style="stroke:none">T</text>
<text x="246.82" y="331.10" font-size="3.0" text-anchor="middle" fill="#6e6ed8" style="stroke:none">C</text>
<text x="250.04" y="331.10" font-size="3.0" text-anchor="middle" fill="#7cbc7c" style="stroke:none">A</text>
<text x="253.25" y="331.10" font-size="3.0" text-anchor="middle" fill="#444" style="stroke:none">G</text>
<text x="256.46" y="331.10" font-size="3.0" text-anchor="middle" fill="#7cbc7c" style="stroke:none">A</text>
<text x="259.68" y="331.10" font-size="3.0" text-anchor="middle" fill="#7cbc7c" style="stroke:none">A</text>
<text x="262.89" y="331.10" font-size="3.0" text-anchor="middle" fill="#7cbc7c" style="stroke:none">A</text>
<text x="266.11" y="331.10" font-size="3.0" text-anchor="middle" fill="#e07070" style="stroke:none">T</text>
<text x="269.32" y="331.10" font-size="3.0" text-anchor="middle" fill="#e07070" style="stroke:none">T</text>
<text x="272.54" y="331.10" font-size="3.0" text-anchor="middle" fill="#e07070" style="stroke:none">T</text>
<text x="275.75" y="331.10" font-size="3.0" text-anchor="middle" fill="#444" style="stroke:none">G</text>
<text x="278.96" y="331.10" font-size="3.0" text-anchor="middle" fill="#7cbc7c" style="stroke:none">A</text>
<text x="282.18" y="331.10" font-size="3.0" text-anchor="middle" fill="#7cbc7c" style="stroke:none">A</text>
<text x="285.39" y="331.10" font-size="3.0" text-anchor="middle" fill="#e07070" style="stroke:none">G</text>
<polyline points="240.80,353.04 241.05,350.82 241.30,349.38 241.55,349.02 241.80,349.84 242.05,351.64 242.30,354.04 242.55,356.59 242.80,358.91 243.05,360.78 243.30,362.11 243.55,362.98 243.80,363.49 244.05,363.77 244.30,363.90 244.55,363.96" fill="none" stroke="#e07070" stroke-width="0.7" stroke-linejoin="round"/>
<polyline points="242.30,363.97 242.55,363.92 242.80,363.80 243.05,363.55 243.30,363.05 243.55,362.16 243.80,360.70 244.05,358.53 244.30,355.64 244.55,352.21 244.80,348.65 245.05,345.55 245.30,343.53 245.55,343.03 245.80,344.18 246.05,346.70 246.30,350.06 246.55,353.63 246.80,356.88 247.05,359.49 247.30,361.36 247.55,362.57 247.80,363.29 248.05,363.67 248.30,363.86 248.55,363.95" fill="none" stroke="#6e6ed8" stroke-width="0.7" stroke-linejoin="round"/>
<polyline points="245.80,363.98 246.05,363.96 246.30,363.90 246.55,363.76 246.80,363.50 247.05,363.04 247.30,362.27 247.55,361.14 247.80,359.62 248.05,357.83 248.30,355.96 248.55,354.34 248.80,353.28 249.05,353.02 249.30,353.62 249.55,354.94 249.80,356.70 250.05,358.57 250.30,360.27 250.55,361.64 250.80,362.62 251.05,363.25 251.30,363.63 251.55,363.83 251.80,363.93 252.05,363.97" fill="none" stroke="#7cbc7c" stroke-width="0.7" stroke-linejoin="round"/>
<polyline points="249.30,363.99 249.55,363.97 249.80,363.92 250.05,363.83 250.30,363.64 250.55,363.30 250.80,362.74 251.05,361.92 251.30,360.82 251.55,359.51 251.80,358.15 252.05,356.97 252.30,356.20 252.55,356.01 252.80,356.45 253.05,357.41 253.30,358.69 253.55,360.05 253.80,361.29 254.05,362.28 254.30,362.99 254.55,363.46 254.80,363.73 255.05,363.88 255.30,363.95 255.55,363.98" fill="none" stroke="#7cbc7c" stroke-width="0.7" stroke-linejoin="round"/>
<polyline points="253.30,363.96 253.55,363.89 253.80,363.73 254.05,363.38 254.30,362.69 254.55,361.46 254.80,359.44 255.05,356.45 255.30,352.46 255.55,347.72 255.80,342.81 256.05,338.53 256.30,335.73 256.55,335.05 256.80,336.62 257.05,340.10 257.30,344.75 257.55,349.68 257.80,354.17 258.05,357.77 258.30,360.35 258.55,362.03 258.80,363.02 259.05,363.55 259.30,363.81 259.55,363.92" fill="none" stroke="#7cbc7c" stroke-width="0.7" stroke-linejoin="round"/>
<polyline points="256.80,363.99 257.05,363.98 257.30,363.94 257.55,363.87 257.80,363.73 258.05,363.47 258.30,363.06 258.55,362.44 258.80,361.61 259.05,360.63 259.30,359.62 259.55,358.73 259.80,358.15 260.05,358.01 260.30,358.34 260.55,359.06 260.80,360.02 261.05,361.04 261.30,361.97 261.55,362.71 261.80,363.25 262.05,363.59 262.30,363.80 262.55,363.91 262.80,363.96 263.05,363.98" fill="none" stroke="#7cbc7c" stroke-width="0.7" stroke-linejoin="round"/>
<polyline points="260.30,363.97 260.55,363.92 260.80,363.80 261.05,363.55 261.30,363.05 261.55,362.16 261.80,360.70 262.05,358.53 262.30,355.64 262.55,352.21 262.80,348.65 263.05,345.55 263.30,343.53 263.55,343.03 263.80,344.18 264.05,346.70 264.30,350.06 264.55,353.63 264.80,356.88 265.05,359.49 265.30,361.36 265.55,362.57 265.80,363.29 266.05,363.67 266.30,363.86 266.55,363.95" fill="none" stroke="#5c5c5c" stroke-width="0.7" stroke-linejoin="round"/>
<polyline points="263.80,363.98 264.05,363.94 264.30,363.84 264.55,363.64 264.80,363.23 265.05,362.51 265.30,361.33 265.55,359.57 265.80,357.24 266.05,354.46 266.30,351.58 266.55,349.07 266.80,347.43 267.05,347.03 267.30,347.95 267.55,349.99 267.80,352.71 268.05,355.61 268.30,358.24 268.55,360.35 268.80,361.86 269.05,362.85 269.30,363.42 269.55,363.74 269.80,363.89 270.05,363.96" fill="none" stroke="#e07070" stroke-width="0.7" stroke-linejoin="round"/>
<polyline points="266.80,363.99 267.05,363.97 267.30,363.93 267.55,363.85 267.80,363.68 268.05,363.39 268.30,362.90 268.55,362.18 268.80,361.21 269.05,360.07 269.30,358.88 269.55,357.85 269.80,357.18 270.05,357.01 270.30,357.39 270.55,358.23 270.80,359.35 271.05,360.54 271.30,361.63 271.55,362.50 271.80,363.12 272.05,363.52 272.30,363.76 272.55,363.89 272.80,363.95 273.05,363.98" fill="none" stroke="#e07070" stroke-width="0.7" stroke-linejoin="round"/>
<polyline points="269.80,363.99 270.05,363.97 270.30,363.92 270.55,363.81 270.80,363.59 271.05,363.21 271.30,362.58 271.55,361.66 271.80,360.42 272.05,358.95 272.30,357.42 272.55,356.09 272.80,355.23 273.05,355.01 273.30,355.50 273.55,356.58 273.80,358.02 274.05,359.56 274.30,360.95 274.55,362.07 274.80,362.87 275.05,363.39 275.30,363.70 275.55,363.86 275.80,363.94 276.05,363.98" fill="none" stroke="#e07070" stroke-width="0.7" stroke-linejoin="round"/>
<polyline points="272.80,363.98 273.05,363.96 273.30,363.90 273.55,363.76 273.80,363.50 274.05,363.04 274.30,362.27 274.55,361.14 274.80,359.62 275.05,357.83 275.30,355.96 275.55,354.34 275.80,353.28 276.05,353.02 276.30,353.62 276.55,354.94 276.80,356.70 277.05,358.57 277.30,360.27 277.55,361.64 277.80,362.62 278.05,363.25 278.30,363.63 278.55,363.83 278.80,363.93 279.05,363.97" fill="none" stroke="#5c5c5c" stroke-width="0.7" stroke-linejoin="round"/>
<polyline points="275.80,363.98 276.05,363.95 276.30,363.89 276.55,363.74 276.80,363.46 277.05,362.95 277.30,362.11 277.55,360.88 277.80,359.23 278.05,357.27 278.30,355.23 278.55,353.46 278.80,352.30 279.05,352.02 279.30,352.67 279.55,354.11 279.80,356.03 280.05,358.07 280.30,359.93 280.55,361.42 280.80,362.49 281.05,363.19 281.30,363.59 281.55,363.81 281.80,363.92 282.05,363.97" fill="none" stroke="#7cbc7c" stroke-width="0.7" stroke-linejoin="round"/>
<polyline points="278.80,363.99 279.05,363.98 279.30,363.94 279.55,363.87 279.80,363.73 280.05,363.47 280.30,363.06 280.55,362.44 280.80,361.61 281.05,360.63 281.30,359.62 281.55,358.73 281.80,358.15 282.05,358.01 282.30,358.34 282.55,359.06 282.80,360.02 283.05,361.04 283.30,361.97 283.55,362.71 283.80,363.25 284.05,363.59 284.30,363.80 284.55,363.91 284.80,363.96 285.05,363.98" fill="none" stroke="#7cbc7c" stroke-width="0.7" stroke-linejoin="round"/>
<polyline points="282.30,363.99 282.55,363.97 282.80,363.92 283.05,363.81 283.30,363.59 283.55,363.21 283.80,362.58 284.05,361.66 284.30,360.42 284.55,358.95 284.80,357.42 285.05,356.09 285.30,355.23 285.55,355.01 285.80,355.50 286.05,356.58 286.30,358.02 286.55,359.56 286.80,360.95 287.05,362.07 287.30,362.87 287.55,363.39 287.80,363.70 288.05,363.86 288.30,363.94" fill="none" stroke="#e07070" stroke-width="0.7" stroke-linejoin="round"/>
<polyline points="284.80,363.99 285.05,363.97 285.30,363.93 285.55,363.85 285.80,363.68 286.05,363.39 286.30,362.90 286.55,362.18 286.80,361.21 287.05,360.07 287.30,358.88 287.55,357.85 287.80,357.18 288.05,357.01 288.30,357.39" fill="none" stroke="#7cbc7c" stroke-width="0.7" stroke-linejoin="round"/>
<rect x="292.00" y="325.80" width="49.40" height="39.40" fill="#fff" stroke="#555" stroke-width="0.9"/>
<text x="295.62" y="331.10" font-size="3.0" text-anchor="middle" fill="#e07070" style="stroke:none">T</text>
<text x="298.86" y="331.10" font-size="3.0" text-anchor="middle" fill="#6e6ed8" style="stroke:none">C</text>
<text x="302.11" y="331.10" font-size="3.0" text-anchor="middle" fill="#7cbc7c" style="stroke:none">A</text>
<text x="305.35" y="331.10" font-size="3.0" text-anchor="middle" fill="#444" style="stroke:none">G</text>
<text x="308.59" y="331.10" font-size="3.0" text-anchor="middle" fill="#7cbc7c" style="stroke:none">A</text>
<text x="311.84" y="331.10" font-size="3.0" text-anchor="middle" fill="#444" style="stroke:none">A</text>
<text x="315.08" y="331.10" font-size="3.0" text-anchor="middle" fill="#7cbc7c" style="stroke:none">G</text>
<text x="318.32" y="331.10" font-size="3.0" text-anchor="middle" fill="#e07070" style="stroke:none">T</text>
<text x="321.56" y="331.10" font-size="3.0" text-anchor="middle" fill="#e07070" style="stroke:none">T</text>
<text x="324.81" y="331.10" font-size="3.0" text-anchor="middle" fill="#e07070" style="stroke:none">T</text>
<text x="328.05" y="331.10" font-size="3.0" text-anchor="middle" fill="#444" style="stroke:none">G</text>
<text x="331.29" y="331.10" font-size="3.0" text-anchor="middle" fill="#7cbc7c" style="stroke:none">A</text>
<text x="334.54" y="331.10" font-size="3.0" text-anchor="middle" fill="#e07070" style="stroke:none">T</text>
<text x="337.78" y="331.10" font-size="3.0" text-anchor="middle" fill="#444" style="stroke:none">G</text>
<polyline points="292.80,358.43 293.05,356.14 293.30,353.77 293.55,351.70 293.80,350.35 294.05,350.02 294.30,350.78 294.55,352.46 294.80,354.71 295.05,357.09 295.30,359.25 295.55,360.99 295.80,362.24 296.05,363.05 296.30,363.53 296.55,363.78 296.80,363.91 297.05,363.96" fill="none" stroke="#e07070" stroke-width="0.7" stroke-linejoin="round"/>
<polyline points="294.30,363.98 294.55,363.95 294.80,363.87 295.05,363.70 295.30,363.37 295.55,362.77 295.80,361.80 296.05,360.35 296.30,358.43 296.55,356.14 296.80,353.77 297.05,351.70 297.30,350.35 297.55,350.02 297.80,350.78 298.05,352.46 298.30,354.71 298.55,357.09 298.80,359.25 299.05,360.99 299.30,362.24 299.55,363.05 299.80,363.53 300.05,363.78 300.30,363.91 300.55,363.96" fill="none" stroke="#6e6ed8" stroke-width="0.7" stroke-linejoin="round"/>
<polyline points="297.80,363.99 298.05,363.97 298.30,363.92 298.55,363.81 298.80,363.59 299.05,363.21 299.30,362.58 299.55,361.66 299.80,360.42 300.05,358.95 300.30,357.42 300.55,356.09 300.80,355.23 301.05,355.01 301.30,355.50 301.55,356.58 301.80,358.02 302.05,359.56 302.30,360.95 302.55,362.07 302.80,362.87 303.05,363.39 303.30,363.70 303.55,363.86 303.80,363.94 304.05,363.98" fill="none" stroke="#7cbc7c" stroke-width="0.7" stroke-linejoin="round"/>
<polyline points="301.30,363.99 301.55,363.97 301.80,363.93 302.05,363.85 302.30,363.68 302.55,363.39 302.80,362.90 303.05,362.18 303.30,361.21 303.55,360.07 303.80,358.88 304.05,357.85 304.30,357.18 304.55,357.01 304.80,357.39 305.05,358.23 305.30,359.35 305.55,360.54 305.80,361.63 306.05,362.50 306.30,363.12 306.55,363.52 306.80,363.76 307.05,363.89 307.30,363.95 307.55,363.98" fill="none" stroke="#5c5c5c" stroke-width="0.7" stroke-linejoin="round"/>
<polyline points="304.80,363.96 305.05,363.90 305.30,363.76 305.55,363.44 305.80,362.83 306.05,361.72 306.30,359.91 306.55,357.23 306.80,353.66 307.05,349.41 307.30,345.00 307.55,341.16 307.80,338.66 308.05,338.04 308.30,339.46 308.55,342.58 308.80,346.74 309.05,351.16 309.30,355.18 309.55,358.41 309.80,360.73 310.05,362.23 310.30,363.12 310.55,363.59 310.80,363.83 311.05,363.93" fill="none" stroke="#7cbc7c" stroke-width="0.7" stroke-linejoin="round"/>
<polyline points="308.30,363.99 308.55,363.97 308.80,363.92 309.05,363.81 309.30,363.59 309.55,363.21 309.80,362.58 310.05,361.66 310.30,360.42 310.55,358.95 310.80,357.42 311.05,356.09 311.30,355.23 311.55,355.01 311.80,355.50 312.05,356.58 312.30,358.02 312.55,359.56 312.80,360.95 313.05,362.07 313.30,362.87 313.55,363.39 313.80,363.70 314.05,363.86 314.30,363.94 314.55,363.98" fill="none" stroke="#5c5c5c" stroke-width="0.7" stroke-linejoin="round"/>
<polyline points="311.80,363.97 312.05,363.92 312.30,363.80 312.55,363.55 312.80,363.05 313.05,362.16 313.30,360.70 313.55,358.53 313.80,355.64 314.05,352.21 314.30,348.65 314.55,345.55 314.80,343.53 315.05,343.03 315.30,344.18 315.55,346.70 315.80,350.06 316.05,353.63 316.30,356.88 316.55,359.49 316.80,361.36 317.05,362.57 317.30,363.29 317.55,363.67 317.80,363.86 318.05,363.95" fill="none" stroke="#7cbc7c" stroke-width="0.7" stroke-linejoin="round"/>
<polyline points="315.30,363.98 315.55,363.94 315.80,363.86 316.05,363.68 316.30,363.32 316.55,362.68 316.80,361.64 317.05,360.09 317.30,358.03 317.55,355.58 317.80,353.04 318.05,350.82 318.30,349.38 318.55,349.02 318.80,349.84 319.05,351.64 319.30,354.04 319.55,356.59 319.80,358.91 320.05,360.78 320.30,362.11 320.55,362.98 320.80,363.49 321.05,363.77 321.30,363.90 321.55,363.96" fill="none" stroke="#e07070" stroke-width="0.7" stroke-linejoin="round"/>
<polyline points="318.80,363.98 319.05,363.95 319.30,363.87 319.55,363.70 319.80,363.37 320.05,362.77 320.30,361.80 320.55,360.35 320.80,358.43 321.05,356.14 321.30,353.77 321.55,351.70 321.80,350.35 322.05,350.02 322.30,350.78 322.55,352.46 322.80,354.71 323.05,357.09 323.30,359.25 323.55,360.99 323.80,362.24 324.05,363.05 324.30,363.53 324.55,363.78 324.80,363.91 325.05,363.96" fill="none" stroke="#e07070" stroke-width="0.7" stroke-linejoin="round"/>
<polyline points="322.30,363.98 322.55,363.94 322.80,363.86 323.05,363.68 323.30,363.32 323.55,362.68 323.80,361.64 324.05,360.09 324.30,358.03 324.55,355.58 324.80,353.04 325.05,350.82 325.30,349.38 325.55,349.02 325.80,349.84 326.05,351.64 326.30,354.04 326.55,356.59 326.80,358.91 327.05,360.78 327.30,362.11 327.55,362.98 327.80,363.49 328.05,363.77 328.30,363.90 328.55,363.96" fill="none" stroke="#e07070" stroke-width="0.7" stroke-linejoin="round"/>
<polyline points="325.80,363.98 326.05,363.95 326.30,363.87 326.55,363.70 326.80,363.37 327.05,362.77 327.30,361.80 327.55,360.35 327.80,358.43 328.05,356.14 328.30,353.77 328.55,351.70 328.80,350.35 329.05,350.02 329.30,350.78 329.55,352.46 329.80,354.71 330.05,357.09 330.30,359.25 330.55,360.99 330.80,362.24 331.05,363.05 331.30,363.53 331.55,363.78 331.80,363.91 332.05,363.96" fill="none" stroke="#5c5c5c" stroke-width="0.7" stroke-linejoin="round"/>
<polyline points="329.30,363.98 329.55,363.94 329.80,363.84 330.05,363.64 330.30,363.23 330.55,362.51 330.80,361.33 331.05,359.57 331.30,357.24 331.55,354.46 331.80,351.58 332.05,349.07 332.30,347.43 332.55,347.03 332.80,347.95 333.05,349.99 333.30,352.71 333.55,355.61 333.80,358.24 334.05,360.35 334.30,361.86 334.55,362.85 334.80,363.42 335.05,363.74 335.30,363.89 335.55,363.96" fill="none" stroke="#7cbc7c" stroke-width="0.7" stroke-linejoin="round"/>
<polyline points="332.80,363.98 333.05,363.95 333.30,363.89 333.55,363.74 333.80,363.46 334.05,362.95 334.30,362.11 334.55,360.88 334.80,359.23 335.05,357.27 335.30,355.23 335.55,353.46 335.80,352.30 336.05,352.02 336.30,352.67 336.55,354.11 336.80,356.03 337.05,358.07 337.30,359.93 337.55,361.42 337.80,362.49 338.05,363.19 338.30,363.59 338.55,363.81 338.80,363.92 339.05,363.97" fill="none" stroke="#e07070" stroke-width="0.7" stroke-linejoin="round"/>
<polyline points="336.30,363.98 336.55,363.95 336.80,363.87 337.05,363.70 337.30,363.37 337.55,362.77 337.80,361.80 338.05,360.35 338.30,358.43 338.55,356.14 338.80,353.77 339.05,351.70 339.30,350.35 339.55,350.02 339.80,350.78 340.05,352.46 340.30,354.71 340.55,357.09" fill="none" stroke="#5c5c5c" stroke-width="0.7" stroke-linejoin="round"/>
<text x="213.00" y="303.10" font-size="7.5" text-anchor="middle" fill="#222" class="lg">WT</text>
<text x="264.60" y="303.10" font-size="7.5" text-anchor="middle" fill="#222" class="lg">Het</text>
<text x="315.50" y="303.10" font-size="7.5" text-anchor="middle" fill="#222" class="lg">Hom</text>
<text x="213.50" y="376.70" font-size="7.5" text-anchor="middle" fill="#222" class="lg">WT</text>
<text x="264.60" y="376.70" font-size="7.5" text-anchor="middle" fill="#222" class="lg">Het</text>
<text x="315.90" y="376.70" font-size="7.5" text-anchor="middle" fill="#222" class="lg">Hom</text>
</svg>
</body></html>
